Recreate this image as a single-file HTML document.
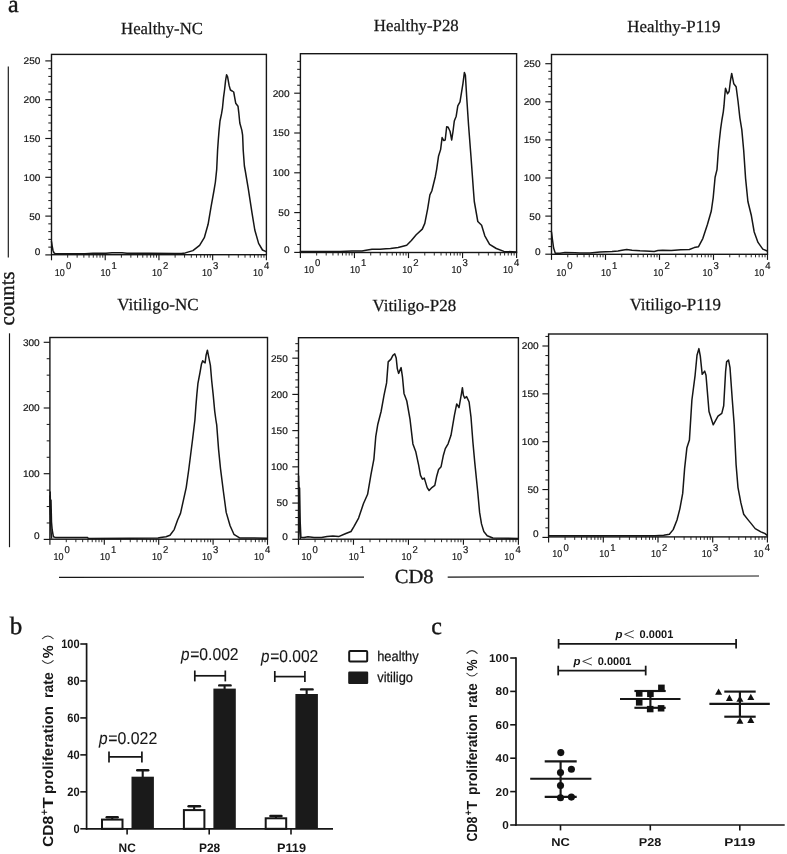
<!DOCTYPE html>
<html lang="en">
<head>
<meta charset="utf-8">
<title>Figure</title>
<style>
html,body{margin:0;padding:0;background:#fff;}
body{width:787px;height:854px;overflow:hidden;font-family:"Liberation Sans",sans-serif;}
svg{display:block;filter:grayscale(1);}
</style>
</head>
<body>
<svg width="787" height="854" viewBox="0 0 787 854" text-rendering="geometricPrecision">
<rect x="0" y="0" width="787" height="854" fill="#ffffff"/>
<rect x="51.5" y="54.4" width="214.9" height="200.3" fill="none" stroke="#161616" stroke-width="1.4"/>
<line x1="45.3" y1="254.9" x2="51.5" y2="254.9" stroke="#161616" stroke-width="1.15" stroke-linecap="butt"/>
<line x1="48.3" y1="247.14" x2="51.5" y2="247.14" stroke="#161616" stroke-width="1" stroke-linecap="butt"/>
<line x1="48.3" y1="239.38" x2="51.5" y2="239.38" stroke="#161616" stroke-width="1" stroke-linecap="butt"/>
<line x1="48.3" y1="231.62" x2="51.5" y2="231.62" stroke="#161616" stroke-width="1" stroke-linecap="butt"/>
<line x1="48.3" y1="223.86" x2="51.5" y2="223.86" stroke="#161616" stroke-width="1" stroke-linecap="butt"/>
<line x1="45.3" y1="216.1" x2="51.5" y2="216.1" stroke="#161616" stroke-width="1.15" stroke-linecap="butt"/>
<line x1="48.3" y1="208.34" x2="51.5" y2="208.34" stroke="#161616" stroke-width="1" stroke-linecap="butt"/>
<line x1="48.3" y1="200.58" x2="51.5" y2="200.58" stroke="#161616" stroke-width="1" stroke-linecap="butt"/>
<line x1="48.3" y1="192.82" x2="51.5" y2="192.82" stroke="#161616" stroke-width="1" stroke-linecap="butt"/>
<line x1="48.3" y1="185.06" x2="51.5" y2="185.06" stroke="#161616" stroke-width="1" stroke-linecap="butt"/>
<line x1="45.3" y1="177.3" x2="51.5" y2="177.3" stroke="#161616" stroke-width="1.15" stroke-linecap="butt"/>
<line x1="48.3" y1="169.54" x2="51.5" y2="169.54" stroke="#161616" stroke-width="1" stroke-linecap="butt"/>
<line x1="48.3" y1="161.78" x2="51.5" y2="161.78" stroke="#161616" stroke-width="1" stroke-linecap="butt"/>
<line x1="48.3" y1="154.02" x2="51.5" y2="154.02" stroke="#161616" stroke-width="1" stroke-linecap="butt"/>
<line x1="48.3" y1="146.26" x2="51.5" y2="146.26" stroke="#161616" stroke-width="1" stroke-linecap="butt"/>
<line x1="45.3" y1="138.5" x2="51.5" y2="138.5" stroke="#161616" stroke-width="1.15" stroke-linecap="butt"/>
<line x1="48.3" y1="130.74" x2="51.5" y2="130.74" stroke="#161616" stroke-width="1" stroke-linecap="butt"/>
<line x1="48.3" y1="122.98" x2="51.5" y2="122.98" stroke="#161616" stroke-width="1" stroke-linecap="butt"/>
<line x1="48.3" y1="115.22" x2="51.5" y2="115.22" stroke="#161616" stroke-width="1" stroke-linecap="butt"/>
<line x1="48.3" y1="107.46" x2="51.5" y2="107.46" stroke="#161616" stroke-width="1" stroke-linecap="butt"/>
<line x1="45.3" y1="99.7" x2="51.5" y2="99.7" stroke="#161616" stroke-width="1.15" stroke-linecap="butt"/>
<line x1="48.3" y1="91.94" x2="51.5" y2="91.94" stroke="#161616" stroke-width="1" stroke-linecap="butt"/>
<line x1="48.3" y1="84.18" x2="51.5" y2="84.18" stroke="#161616" stroke-width="1" stroke-linecap="butt"/>
<line x1="48.3" y1="76.42" x2="51.5" y2="76.42" stroke="#161616" stroke-width="1" stroke-linecap="butt"/>
<line x1="48.3" y1="68.66" x2="51.5" y2="68.66" stroke="#161616" stroke-width="1" stroke-linecap="butt"/>
<line x1="45.3" y1="60.9" x2="51.5" y2="60.9" stroke="#161616" stroke-width="1.15" stroke-linecap="butt"/>
<text x="40.4" y="255.3" font-family='"Liberation Sans", sans-serif' font-size="9.6" font-weight="normal" font-style="normal" text-anchor="end" fill="#161616" textLength="5.6" lengthAdjust="spacingAndGlyphs" stroke="#161616" stroke-width="0.2">0</text>
<text x="40.4" y="219.5" font-family='"Liberation Sans", sans-serif' font-size="9.6" font-weight="normal" font-style="normal" text-anchor="end" fill="#161616" textLength="11.2" lengthAdjust="spacingAndGlyphs" stroke="#161616" stroke-width="0.2">50</text>
<text x="40.4" y="180.7" font-family='"Liberation Sans", sans-serif' font-size="9.6" font-weight="normal" font-style="normal" text-anchor="end" fill="#161616" textLength="16.8" lengthAdjust="spacingAndGlyphs" stroke="#161616" stroke-width="0.2">100</text>
<text x="40.4" y="141.9" font-family='"Liberation Sans", sans-serif' font-size="9.6" font-weight="normal" font-style="normal" text-anchor="end" fill="#161616" textLength="16.8" lengthAdjust="spacingAndGlyphs" stroke="#161616" stroke-width="0.2">150</text>
<text x="40.4" y="103.1" font-family='"Liberation Sans", sans-serif' font-size="9.6" font-weight="normal" font-style="normal" text-anchor="end" fill="#161616" textLength="16.8" lengthAdjust="spacingAndGlyphs" stroke="#161616" stroke-width="0.2">200</text>
<text x="40.4" y="64.3" font-family='"Liberation Sans", sans-serif' font-size="9.6" font-weight="normal" font-style="normal" text-anchor="end" fill="#161616" textLength="16.8" lengthAdjust="spacingAndGlyphs" stroke="#161616" stroke-width="0.2">250</text>
<line x1="51.5" y1="254.7" x2="51.5" y2="260.3" stroke="#161616" stroke-width="1.15" stroke-linecap="butt"/>
<line x1="67.67" y1="254.7" x2="67.67" y2="257.7" stroke="#161616" stroke-width="0.9" stroke-linecap="butt"/>
<line x1="77.13" y1="254.7" x2="77.13" y2="257.7" stroke="#161616" stroke-width="0.9" stroke-linecap="butt"/>
<line x1="83.85" y1="254.7" x2="83.85" y2="257.7" stroke="#161616" stroke-width="0.9" stroke-linecap="butt"/>
<line x1="89.05" y1="254.7" x2="89.05" y2="257.7" stroke="#161616" stroke-width="0.9" stroke-linecap="butt"/>
<line x1="93.31" y1="254.7" x2="93.31" y2="257.7" stroke="#161616" stroke-width="0.9" stroke-linecap="butt"/>
<line x1="96.9" y1="254.7" x2="96.9" y2="257.7" stroke="#161616" stroke-width="0.9" stroke-linecap="butt"/>
<line x1="100.02" y1="254.7" x2="100.02" y2="257.7" stroke="#161616" stroke-width="0.9" stroke-linecap="butt"/>
<line x1="102.77" y1="254.7" x2="102.77" y2="257.7" stroke="#161616" stroke-width="0.9" stroke-linecap="butt"/>
<line x1="105.22" y1="254.7" x2="105.22" y2="260.3" stroke="#161616" stroke-width="1.15" stroke-linecap="butt"/>
<line x1="121.4" y1="254.7" x2="121.4" y2="257.7" stroke="#161616" stroke-width="0.9" stroke-linecap="butt"/>
<line x1="130.86" y1="254.7" x2="130.86" y2="257.7" stroke="#161616" stroke-width="0.9" stroke-linecap="butt"/>
<line x1="137.57" y1="254.7" x2="137.57" y2="257.7" stroke="#161616" stroke-width="0.9" stroke-linecap="butt"/>
<line x1="142.78" y1="254.7" x2="142.78" y2="257.7" stroke="#161616" stroke-width="0.9" stroke-linecap="butt"/>
<line x1="147.03" y1="254.7" x2="147.03" y2="257.7" stroke="#161616" stroke-width="0.9" stroke-linecap="butt"/>
<line x1="150.63" y1="254.7" x2="150.63" y2="257.7" stroke="#161616" stroke-width="0.9" stroke-linecap="butt"/>
<line x1="153.74" y1="254.7" x2="153.74" y2="257.7" stroke="#161616" stroke-width="0.9" stroke-linecap="butt"/>
<line x1="156.49" y1="254.7" x2="156.49" y2="257.7" stroke="#161616" stroke-width="0.9" stroke-linecap="butt"/>
<line x1="158.95" y1="254.7" x2="158.95" y2="260.3" stroke="#161616" stroke-width="1.15" stroke-linecap="butt"/>
<line x1="175.12" y1="254.7" x2="175.12" y2="257.7" stroke="#161616" stroke-width="0.9" stroke-linecap="butt"/>
<line x1="184.58" y1="254.7" x2="184.58" y2="257.7" stroke="#161616" stroke-width="0.9" stroke-linecap="butt"/>
<line x1="191.3" y1="254.7" x2="191.3" y2="257.7" stroke="#161616" stroke-width="0.9" stroke-linecap="butt"/>
<line x1="196.5" y1="254.7" x2="196.5" y2="257.7" stroke="#161616" stroke-width="0.9" stroke-linecap="butt"/>
<line x1="200.76" y1="254.7" x2="200.76" y2="257.7" stroke="#161616" stroke-width="0.9" stroke-linecap="butt"/>
<line x1="204.35" y1="254.7" x2="204.35" y2="257.7" stroke="#161616" stroke-width="0.9" stroke-linecap="butt"/>
<line x1="207.47" y1="254.7" x2="207.47" y2="257.7" stroke="#161616" stroke-width="0.9" stroke-linecap="butt"/>
<line x1="210.22" y1="254.7" x2="210.22" y2="257.7" stroke="#161616" stroke-width="0.9" stroke-linecap="butt"/>
<line x1="212.67" y1="254.7" x2="212.67" y2="260.3" stroke="#161616" stroke-width="1.15" stroke-linecap="butt"/>
<line x1="228.85" y1="254.7" x2="228.85" y2="257.7" stroke="#161616" stroke-width="0.9" stroke-linecap="butt"/>
<line x1="238.31" y1="254.7" x2="238.31" y2="257.7" stroke="#161616" stroke-width="0.9" stroke-linecap="butt"/>
<line x1="245.02" y1="254.7" x2="245.02" y2="257.7" stroke="#161616" stroke-width="0.9" stroke-linecap="butt"/>
<line x1="250.23" y1="254.7" x2="250.23" y2="257.7" stroke="#161616" stroke-width="0.9" stroke-linecap="butt"/>
<line x1="254.48" y1="254.7" x2="254.48" y2="257.7" stroke="#161616" stroke-width="0.9" stroke-linecap="butt"/>
<line x1="258.08" y1="254.7" x2="258.08" y2="257.7" stroke="#161616" stroke-width="0.9" stroke-linecap="butt"/>
<line x1="261.19" y1="254.7" x2="261.19" y2="257.7" stroke="#161616" stroke-width="0.9" stroke-linecap="butt"/>
<line x1="263.94" y1="254.7" x2="263.94" y2="257.7" stroke="#161616" stroke-width="0.9" stroke-linecap="butt"/>
<line x1="266.4" y1="254.7" x2="266.4" y2="260.3" stroke="#161616" stroke-width="1.15" stroke-linecap="butt"/>
<text x="54.8" y="275.8" font-family='"Liberation Sans", sans-serif' font-size="10" font-weight="normal" font-style="normal" text-anchor="start" fill="#161616" textLength="10" lengthAdjust="spacingAndGlyphs" stroke="#161616" stroke-width="0.2">10</text>
<text x="65.9" y="269.2" font-family='"Liberation Sans", sans-serif' font-size="10" font-weight="normal" font-style="normal" text-anchor="start" fill="#161616" textLength="5.3" lengthAdjust="spacingAndGlyphs" stroke="#161616" stroke-width="0.2">0</text>
<text x="100.5" y="275.8" font-family='"Liberation Sans", sans-serif' font-size="10" font-weight="normal" font-style="normal" text-anchor="start" fill="#161616" textLength="10" lengthAdjust="spacingAndGlyphs" stroke="#161616" stroke-width="0.2">10</text>
<text x="111.6" y="269.2" font-family='"Liberation Sans", sans-serif' font-size="10" font-weight="normal" font-style="normal" text-anchor="start" fill="#161616" textLength="5.3" lengthAdjust="spacingAndGlyphs" stroke="#161616" stroke-width="0.2">1</text>
<text x="151.9" y="275.8" font-family='"Liberation Sans", sans-serif' font-size="10" font-weight="normal" font-style="normal" text-anchor="start" fill="#161616" textLength="10" lengthAdjust="spacingAndGlyphs" stroke="#161616" stroke-width="0.2">10</text>
<text x="163" y="269.2" font-family='"Liberation Sans", sans-serif' font-size="10" font-weight="normal" font-style="normal" text-anchor="start" fill="#161616" textLength="5.3" lengthAdjust="spacingAndGlyphs" stroke="#161616" stroke-width="0.2">2</text>
<text x="201.9" y="275.8" font-family='"Liberation Sans", sans-serif' font-size="10" font-weight="normal" font-style="normal" text-anchor="start" fill="#161616" textLength="10" lengthAdjust="spacingAndGlyphs" stroke="#161616" stroke-width="0.2">10</text>
<text x="213" y="269.2" font-family='"Liberation Sans", sans-serif' font-size="10" font-weight="normal" font-style="normal" text-anchor="start" fill="#161616" textLength="5.3" lengthAdjust="spacingAndGlyphs" stroke="#161616" stroke-width="0.2">3</text>
<text x="252.9" y="275.8" font-family='"Liberation Sans", sans-serif' font-size="10" font-weight="normal" font-style="normal" text-anchor="start" fill="#161616" textLength="10" lengthAdjust="spacingAndGlyphs" stroke="#161616" stroke-width="0.2">10</text>
<text x="264" y="269.2" font-family='"Liberation Sans", sans-serif' font-size="10" font-weight="normal" font-style="normal" text-anchor="start" fill="#161616" textLength="5.3" lengthAdjust="spacingAndGlyphs" stroke="#161616" stroke-width="0.2">4</text>
<polyline fill="none" stroke="#161616" stroke-width="1.5" stroke-linejoin="round" stroke-linecap="round" points="51.5,241.6 52.2,246 53,250.5 54,252.9 55.2,253.7 60,253.8 85,253.7 93,253.3 106,253.2 112,252.7 122,252.7 127,253.2 150,253.3 175,253.4 181.5,253.6 185.3,252.9 192.9,250.6 199.6,245.3 204.3,237.7 208.1,224.3 211,207.2 213.9,191 215.4,182 216.7,169.3 217.6,150 218.3,140 219,131.1 220,121 221.5,113.9 222.5,107.8 223.5,97.6 224.6,89.5 225.6,80.3 226.6,74.7 227.6,76.8 229.1,85.4 230.4,90 232.2,91 233.7,92 234.7,97.6 235.7,103.2 238,106.2 238.8,112.8 239.8,123 241.8,130.1 242.6,135.2 242.9,142 243.2,150 244.4,166 245.3,171 248.2,188.1 252,212.9 254.8,230 258.6,243.4 262.5,250 266.1,251.6"/>
<rect x="300.4" y="53.7" width="216.2" height="198.8" fill="none" stroke="#161616" stroke-width="1.4"/>
<line x1="294.2" y1="252.4" x2="300.4" y2="252.4" stroke="#161616" stroke-width="1.15" stroke-linecap="butt"/>
<line x1="297.2" y1="244.44" x2="300.4" y2="244.44" stroke="#161616" stroke-width="1" stroke-linecap="butt"/>
<line x1="297.2" y1="236.48" x2="300.4" y2="236.48" stroke="#161616" stroke-width="1" stroke-linecap="butt"/>
<line x1="297.2" y1="228.52" x2="300.4" y2="228.52" stroke="#161616" stroke-width="1" stroke-linecap="butt"/>
<line x1="297.2" y1="220.56" x2="300.4" y2="220.56" stroke="#161616" stroke-width="1" stroke-linecap="butt"/>
<line x1="294.2" y1="212.6" x2="300.4" y2="212.6" stroke="#161616" stroke-width="1.15" stroke-linecap="butt"/>
<line x1="297.2" y1="204.64" x2="300.4" y2="204.64" stroke="#161616" stroke-width="1" stroke-linecap="butt"/>
<line x1="297.2" y1="196.68" x2="300.4" y2="196.68" stroke="#161616" stroke-width="1" stroke-linecap="butt"/>
<line x1="297.2" y1="188.72" x2="300.4" y2="188.72" stroke="#161616" stroke-width="1" stroke-linecap="butt"/>
<line x1="297.2" y1="180.76" x2="300.4" y2="180.76" stroke="#161616" stroke-width="1" stroke-linecap="butt"/>
<line x1="294.2" y1="172.8" x2="300.4" y2="172.8" stroke="#161616" stroke-width="1.15" stroke-linecap="butt"/>
<line x1="297.2" y1="164.84" x2="300.4" y2="164.84" stroke="#161616" stroke-width="1" stroke-linecap="butt"/>
<line x1="297.2" y1="156.88" x2="300.4" y2="156.88" stroke="#161616" stroke-width="1" stroke-linecap="butt"/>
<line x1="297.2" y1="148.92" x2="300.4" y2="148.92" stroke="#161616" stroke-width="1" stroke-linecap="butt"/>
<line x1="297.2" y1="140.96" x2="300.4" y2="140.96" stroke="#161616" stroke-width="1" stroke-linecap="butt"/>
<line x1="294.2" y1="133" x2="300.4" y2="133" stroke="#161616" stroke-width="1.15" stroke-linecap="butt"/>
<line x1="297.2" y1="125.04" x2="300.4" y2="125.04" stroke="#161616" stroke-width="1" stroke-linecap="butt"/>
<line x1="297.2" y1="117.08" x2="300.4" y2="117.08" stroke="#161616" stroke-width="1" stroke-linecap="butt"/>
<line x1="297.2" y1="109.12" x2="300.4" y2="109.12" stroke="#161616" stroke-width="1" stroke-linecap="butt"/>
<line x1="297.2" y1="101.16" x2="300.4" y2="101.16" stroke="#161616" stroke-width="1" stroke-linecap="butt"/>
<line x1="294.2" y1="93.2" x2="300.4" y2="93.2" stroke="#161616" stroke-width="1.15" stroke-linecap="butt"/>
<line x1="297.2" y1="85.24" x2="300.4" y2="85.24" stroke="#161616" stroke-width="1" stroke-linecap="butt"/>
<line x1="297.2" y1="77.28" x2="300.4" y2="77.28" stroke="#161616" stroke-width="1" stroke-linecap="butt"/>
<line x1="297.2" y1="69.32" x2="300.4" y2="69.32" stroke="#161616" stroke-width="1" stroke-linecap="butt"/>
<line x1="297.2" y1="61.36" x2="300.4" y2="61.36" stroke="#161616" stroke-width="1" stroke-linecap="butt"/>
<text x="289.5" y="252.8" font-family='"Liberation Sans", sans-serif' font-size="9.6" font-weight="normal" font-style="normal" text-anchor="end" fill="#161616" textLength="5.6" lengthAdjust="spacingAndGlyphs" stroke="#161616" stroke-width="0.2">0</text>
<text x="289.5" y="216" font-family='"Liberation Sans", sans-serif' font-size="9.6" font-weight="normal" font-style="normal" text-anchor="end" fill="#161616" textLength="11.2" lengthAdjust="spacingAndGlyphs" stroke="#161616" stroke-width="0.2">50</text>
<text x="289.5" y="176.2" font-family='"Liberation Sans", sans-serif' font-size="9.6" font-weight="normal" font-style="normal" text-anchor="end" fill="#161616" textLength="16.8" lengthAdjust="spacingAndGlyphs" stroke="#161616" stroke-width="0.2">100</text>
<text x="289.5" y="136.4" font-family='"Liberation Sans", sans-serif' font-size="9.6" font-weight="normal" font-style="normal" text-anchor="end" fill="#161616" textLength="16.8" lengthAdjust="spacingAndGlyphs" stroke="#161616" stroke-width="0.2">150</text>
<text x="289.5" y="96.6" font-family='"Liberation Sans", sans-serif' font-size="9.6" font-weight="normal" font-style="normal" text-anchor="end" fill="#161616" textLength="16.8" lengthAdjust="spacingAndGlyphs" stroke="#161616" stroke-width="0.2">200</text>
<line x1="300.4" y1="252.5" x2="300.4" y2="258.1" stroke="#161616" stroke-width="1.15" stroke-linecap="butt"/>
<line x1="316.67" y1="252.5" x2="316.67" y2="255.5" stroke="#161616" stroke-width="0.9" stroke-linecap="butt"/>
<line x1="326.19" y1="252.5" x2="326.19" y2="255.5" stroke="#161616" stroke-width="0.9" stroke-linecap="butt"/>
<line x1="332.94" y1="252.5" x2="332.94" y2="255.5" stroke="#161616" stroke-width="0.9" stroke-linecap="butt"/>
<line x1="338.18" y1="252.5" x2="338.18" y2="255.5" stroke="#161616" stroke-width="0.9" stroke-linecap="butt"/>
<line x1="342.46" y1="252.5" x2="342.46" y2="255.5" stroke="#161616" stroke-width="0.9" stroke-linecap="butt"/>
<line x1="346.08" y1="252.5" x2="346.08" y2="255.5" stroke="#161616" stroke-width="0.9" stroke-linecap="butt"/>
<line x1="349.21" y1="252.5" x2="349.21" y2="255.5" stroke="#161616" stroke-width="0.9" stroke-linecap="butt"/>
<line x1="351.98" y1="252.5" x2="351.98" y2="255.5" stroke="#161616" stroke-width="0.9" stroke-linecap="butt"/>
<line x1="354.45" y1="252.5" x2="354.45" y2="258.1" stroke="#161616" stroke-width="1.15" stroke-linecap="butt"/>
<line x1="370.72" y1="252.5" x2="370.72" y2="255.5" stroke="#161616" stroke-width="0.9" stroke-linecap="butt"/>
<line x1="380.24" y1="252.5" x2="380.24" y2="255.5" stroke="#161616" stroke-width="0.9" stroke-linecap="butt"/>
<line x1="386.99" y1="252.5" x2="386.99" y2="255.5" stroke="#161616" stroke-width="0.9" stroke-linecap="butt"/>
<line x1="392.23" y1="252.5" x2="392.23" y2="255.5" stroke="#161616" stroke-width="0.9" stroke-linecap="butt"/>
<line x1="396.51" y1="252.5" x2="396.51" y2="255.5" stroke="#161616" stroke-width="0.9" stroke-linecap="butt"/>
<line x1="400.13" y1="252.5" x2="400.13" y2="255.5" stroke="#161616" stroke-width="0.9" stroke-linecap="butt"/>
<line x1="403.26" y1="252.5" x2="403.26" y2="255.5" stroke="#161616" stroke-width="0.9" stroke-linecap="butt"/>
<line x1="406.03" y1="252.5" x2="406.03" y2="255.5" stroke="#161616" stroke-width="0.9" stroke-linecap="butt"/>
<line x1="408.5" y1="252.5" x2="408.5" y2="258.1" stroke="#161616" stroke-width="1.15" stroke-linecap="butt"/>
<line x1="424.77" y1="252.5" x2="424.77" y2="255.5" stroke="#161616" stroke-width="0.9" stroke-linecap="butt"/>
<line x1="434.29" y1="252.5" x2="434.29" y2="255.5" stroke="#161616" stroke-width="0.9" stroke-linecap="butt"/>
<line x1="441.04" y1="252.5" x2="441.04" y2="255.5" stroke="#161616" stroke-width="0.9" stroke-linecap="butt"/>
<line x1="446.28" y1="252.5" x2="446.28" y2="255.5" stroke="#161616" stroke-width="0.9" stroke-linecap="butt"/>
<line x1="450.56" y1="252.5" x2="450.56" y2="255.5" stroke="#161616" stroke-width="0.9" stroke-linecap="butt"/>
<line x1="454.18" y1="252.5" x2="454.18" y2="255.5" stroke="#161616" stroke-width="0.9" stroke-linecap="butt"/>
<line x1="457.31" y1="252.5" x2="457.31" y2="255.5" stroke="#161616" stroke-width="0.9" stroke-linecap="butt"/>
<line x1="460.08" y1="252.5" x2="460.08" y2="255.5" stroke="#161616" stroke-width="0.9" stroke-linecap="butt"/>
<line x1="462.55" y1="252.5" x2="462.55" y2="258.1" stroke="#161616" stroke-width="1.15" stroke-linecap="butt"/>
<line x1="478.82" y1="252.5" x2="478.82" y2="255.5" stroke="#161616" stroke-width="0.9" stroke-linecap="butt"/>
<line x1="488.34" y1="252.5" x2="488.34" y2="255.5" stroke="#161616" stroke-width="0.9" stroke-linecap="butt"/>
<line x1="495.09" y1="252.5" x2="495.09" y2="255.5" stroke="#161616" stroke-width="0.9" stroke-linecap="butt"/>
<line x1="500.33" y1="252.5" x2="500.33" y2="255.5" stroke="#161616" stroke-width="0.9" stroke-linecap="butt"/>
<line x1="504.61" y1="252.5" x2="504.61" y2="255.5" stroke="#161616" stroke-width="0.9" stroke-linecap="butt"/>
<line x1="508.23" y1="252.5" x2="508.23" y2="255.5" stroke="#161616" stroke-width="0.9" stroke-linecap="butt"/>
<line x1="511.36" y1="252.5" x2="511.36" y2="255.5" stroke="#161616" stroke-width="0.9" stroke-linecap="butt"/>
<line x1="514.13" y1="252.5" x2="514.13" y2="255.5" stroke="#161616" stroke-width="0.9" stroke-linecap="butt"/>
<line x1="516.6" y1="252.5" x2="516.6" y2="258.1" stroke="#161616" stroke-width="1.15" stroke-linecap="butt"/>
<text x="303.9" y="272.9" font-family='"Liberation Sans", sans-serif' font-size="10" font-weight="normal" font-style="normal" text-anchor="start" fill="#161616" textLength="10" lengthAdjust="spacingAndGlyphs" stroke="#161616" stroke-width="0.2">10</text>
<text x="315" y="266.3" font-family='"Liberation Sans", sans-serif' font-size="10" font-weight="normal" font-style="normal" text-anchor="start" fill="#161616" textLength="5.3" lengthAdjust="spacingAndGlyphs" stroke="#161616" stroke-width="0.2">0</text>
<text x="350" y="272.9" font-family='"Liberation Sans", sans-serif' font-size="10" font-weight="normal" font-style="normal" text-anchor="start" fill="#161616" textLength="10" lengthAdjust="spacingAndGlyphs" stroke="#161616" stroke-width="0.2">10</text>
<text x="361.1" y="266.3" font-family='"Liberation Sans", sans-serif' font-size="10" font-weight="normal" font-style="normal" text-anchor="start" fill="#161616" textLength="5.3" lengthAdjust="spacingAndGlyphs" stroke="#161616" stroke-width="0.2">1</text>
<text x="402.2" y="272.9" font-family='"Liberation Sans", sans-serif' font-size="10" font-weight="normal" font-style="normal" text-anchor="start" fill="#161616" textLength="10" lengthAdjust="spacingAndGlyphs" stroke="#161616" stroke-width="0.2">10</text>
<text x="413.3" y="266.3" font-family='"Liberation Sans", sans-serif' font-size="10" font-weight="normal" font-style="normal" text-anchor="start" fill="#161616" textLength="5.3" lengthAdjust="spacingAndGlyphs" stroke="#161616" stroke-width="0.2">2</text>
<text x="451.5" y="272.9" font-family='"Liberation Sans", sans-serif' font-size="10" font-weight="normal" font-style="normal" text-anchor="start" fill="#161616" textLength="10" lengthAdjust="spacingAndGlyphs" stroke="#161616" stroke-width="0.2">10</text>
<text x="462.6" y="266.3" font-family='"Liberation Sans", sans-serif' font-size="10" font-weight="normal" font-style="normal" text-anchor="start" fill="#161616" textLength="5.3" lengthAdjust="spacingAndGlyphs" stroke="#161616" stroke-width="0.2">3</text>
<text x="502.9" y="272.9" font-family='"Liberation Sans", sans-serif' font-size="10" font-weight="normal" font-style="normal" text-anchor="start" fill="#161616" textLength="10" lengthAdjust="spacingAndGlyphs" stroke="#161616" stroke-width="0.2">10</text>
<text x="514" y="266.3" font-family='"Liberation Sans", sans-serif' font-size="10" font-weight="normal" font-style="normal" text-anchor="start" fill="#161616" textLength="5.3" lengthAdjust="spacingAndGlyphs" stroke="#161616" stroke-width="0.2">4</text>
<polyline fill="none" stroke="#161616" stroke-width="1.5" stroke-linejoin="round" stroke-linecap="round" points="300.4,251.6 340,251.6 352,251 362,250.9 366,250.2 372,249.3 380,249.2 386,248.8 390.5,248.6 398.1,247.6 402,246.6 406.7,245.3 411.4,240.5 416.2,234.8 422.3,229.1 424.8,223.4 427.6,209.1 429.9,194.8 431.8,191 435.3,176.7 436.6,169.6 438.5,156.3 440.6,149.6 442.1,137.6 443.8,140.6 445.2,140 446.7,126.7 448.2,127.3 450.1,131.5 451.7,140 453,131.5 454.3,121 456.2,116.2 457.8,105.8 460,101.9 462.9,83.8 464.4,72.4 465.4,75.3 466.7,97.2 468.6,125.8 471.1,158.2 473.4,190 474.3,201.5 477.8,221.5 481.6,225.3 484.8,235.8 489.6,244.3 496.3,248.5 503.9,251.4 516.5,251.9"/>
<rect x="551.5" y="54.5" width="216" height="199.8" fill="none" stroke="#161616" stroke-width="1.4"/>
<line x1="545.3" y1="254.2" x2="551.5" y2="254.2" stroke="#161616" stroke-width="1.15" stroke-linecap="butt"/>
<line x1="548.3" y1="246.58" x2="551.5" y2="246.58" stroke="#161616" stroke-width="1" stroke-linecap="butt"/>
<line x1="548.3" y1="238.96" x2="551.5" y2="238.96" stroke="#161616" stroke-width="1" stroke-linecap="butt"/>
<line x1="548.3" y1="231.34" x2="551.5" y2="231.34" stroke="#161616" stroke-width="1" stroke-linecap="butt"/>
<line x1="548.3" y1="223.72" x2="551.5" y2="223.72" stroke="#161616" stroke-width="1" stroke-linecap="butt"/>
<line x1="545.3" y1="216.1" x2="551.5" y2="216.1" stroke="#161616" stroke-width="1.15" stroke-linecap="butt"/>
<line x1="548.3" y1="208.48" x2="551.5" y2="208.48" stroke="#161616" stroke-width="1" stroke-linecap="butt"/>
<line x1="548.3" y1="200.86" x2="551.5" y2="200.86" stroke="#161616" stroke-width="1" stroke-linecap="butt"/>
<line x1="548.3" y1="193.24" x2="551.5" y2="193.24" stroke="#161616" stroke-width="1" stroke-linecap="butt"/>
<line x1="548.3" y1="185.62" x2="551.5" y2="185.62" stroke="#161616" stroke-width="1" stroke-linecap="butt"/>
<line x1="545.3" y1="178" x2="551.5" y2="178" stroke="#161616" stroke-width="1.15" stroke-linecap="butt"/>
<line x1="548.3" y1="170.38" x2="551.5" y2="170.38" stroke="#161616" stroke-width="1" stroke-linecap="butt"/>
<line x1="548.3" y1="162.76" x2="551.5" y2="162.76" stroke="#161616" stroke-width="1" stroke-linecap="butt"/>
<line x1="548.3" y1="155.14" x2="551.5" y2="155.14" stroke="#161616" stroke-width="1" stroke-linecap="butt"/>
<line x1="548.3" y1="147.52" x2="551.5" y2="147.52" stroke="#161616" stroke-width="1" stroke-linecap="butt"/>
<line x1="545.3" y1="139.9" x2="551.5" y2="139.9" stroke="#161616" stroke-width="1.15" stroke-linecap="butt"/>
<line x1="548.3" y1="132.28" x2="551.5" y2="132.28" stroke="#161616" stroke-width="1" stroke-linecap="butt"/>
<line x1="548.3" y1="124.66" x2="551.5" y2="124.66" stroke="#161616" stroke-width="1" stroke-linecap="butt"/>
<line x1="548.3" y1="117.04" x2="551.5" y2="117.04" stroke="#161616" stroke-width="1" stroke-linecap="butt"/>
<line x1="548.3" y1="109.42" x2="551.5" y2="109.42" stroke="#161616" stroke-width="1" stroke-linecap="butt"/>
<line x1="545.3" y1="101.8" x2="551.5" y2="101.8" stroke="#161616" stroke-width="1.15" stroke-linecap="butt"/>
<line x1="548.3" y1="94.18" x2="551.5" y2="94.18" stroke="#161616" stroke-width="1" stroke-linecap="butt"/>
<line x1="548.3" y1="86.56" x2="551.5" y2="86.56" stroke="#161616" stroke-width="1" stroke-linecap="butt"/>
<line x1="548.3" y1="78.94" x2="551.5" y2="78.94" stroke="#161616" stroke-width="1" stroke-linecap="butt"/>
<line x1="548.3" y1="71.32" x2="551.5" y2="71.32" stroke="#161616" stroke-width="1" stroke-linecap="butt"/>
<line x1="545.3" y1="63.7" x2="551.5" y2="63.7" stroke="#161616" stroke-width="1.15" stroke-linecap="butt"/>
<text x="540.5" y="254.6" font-family='"Liberation Sans", sans-serif' font-size="9.6" font-weight="normal" font-style="normal" text-anchor="end" fill="#161616" textLength="5.6" lengthAdjust="spacingAndGlyphs" stroke="#161616" stroke-width="0.2">0</text>
<text x="540.5" y="219.5" font-family='"Liberation Sans", sans-serif' font-size="9.6" font-weight="normal" font-style="normal" text-anchor="end" fill="#161616" textLength="11.2" lengthAdjust="spacingAndGlyphs" stroke="#161616" stroke-width="0.2">50</text>
<text x="540.5" y="181.4" font-family='"Liberation Sans", sans-serif' font-size="9.6" font-weight="normal" font-style="normal" text-anchor="end" fill="#161616" textLength="16.8" lengthAdjust="spacingAndGlyphs" stroke="#161616" stroke-width="0.2">100</text>
<text x="540.5" y="143.3" font-family='"Liberation Sans", sans-serif' font-size="9.6" font-weight="normal" font-style="normal" text-anchor="end" fill="#161616" textLength="16.8" lengthAdjust="spacingAndGlyphs" stroke="#161616" stroke-width="0.2">150</text>
<text x="540.5" y="105.2" font-family='"Liberation Sans", sans-serif' font-size="9.6" font-weight="normal" font-style="normal" text-anchor="end" fill="#161616" textLength="16.8" lengthAdjust="spacingAndGlyphs" stroke="#161616" stroke-width="0.2">200</text>
<text x="540.5" y="67.1" font-family='"Liberation Sans", sans-serif' font-size="9.6" font-weight="normal" font-style="normal" text-anchor="end" fill="#161616" textLength="16.8" lengthAdjust="spacingAndGlyphs" stroke="#161616" stroke-width="0.2">250</text>
<line x1="551.5" y1="254.3" x2="551.5" y2="259.9" stroke="#161616" stroke-width="1.15" stroke-linecap="butt"/>
<line x1="567.76" y1="254.3" x2="567.76" y2="257.3" stroke="#161616" stroke-width="0.9" stroke-linecap="butt"/>
<line x1="577.26" y1="254.3" x2="577.26" y2="257.3" stroke="#161616" stroke-width="0.9" stroke-linecap="butt"/>
<line x1="584.01" y1="254.3" x2="584.01" y2="257.3" stroke="#161616" stroke-width="0.9" stroke-linecap="butt"/>
<line x1="589.24" y1="254.3" x2="589.24" y2="257.3" stroke="#161616" stroke-width="0.9" stroke-linecap="butt"/>
<line x1="593.52" y1="254.3" x2="593.52" y2="257.3" stroke="#161616" stroke-width="0.9" stroke-linecap="butt"/>
<line x1="597.14" y1="254.3" x2="597.14" y2="257.3" stroke="#161616" stroke-width="0.9" stroke-linecap="butt"/>
<line x1="600.27" y1="254.3" x2="600.27" y2="257.3" stroke="#161616" stroke-width="0.9" stroke-linecap="butt"/>
<line x1="603.03" y1="254.3" x2="603.03" y2="257.3" stroke="#161616" stroke-width="0.9" stroke-linecap="butt"/>
<line x1="605.5" y1="254.3" x2="605.5" y2="259.9" stroke="#161616" stroke-width="1.15" stroke-linecap="butt"/>
<line x1="621.76" y1="254.3" x2="621.76" y2="257.3" stroke="#161616" stroke-width="0.9" stroke-linecap="butt"/>
<line x1="631.26" y1="254.3" x2="631.26" y2="257.3" stroke="#161616" stroke-width="0.9" stroke-linecap="butt"/>
<line x1="638.01" y1="254.3" x2="638.01" y2="257.3" stroke="#161616" stroke-width="0.9" stroke-linecap="butt"/>
<line x1="643.24" y1="254.3" x2="643.24" y2="257.3" stroke="#161616" stroke-width="0.9" stroke-linecap="butt"/>
<line x1="647.52" y1="254.3" x2="647.52" y2="257.3" stroke="#161616" stroke-width="0.9" stroke-linecap="butt"/>
<line x1="651.14" y1="254.3" x2="651.14" y2="257.3" stroke="#161616" stroke-width="0.9" stroke-linecap="butt"/>
<line x1="654.27" y1="254.3" x2="654.27" y2="257.3" stroke="#161616" stroke-width="0.9" stroke-linecap="butt"/>
<line x1="657.03" y1="254.3" x2="657.03" y2="257.3" stroke="#161616" stroke-width="0.9" stroke-linecap="butt"/>
<line x1="659.5" y1="254.3" x2="659.5" y2="259.9" stroke="#161616" stroke-width="1.15" stroke-linecap="butt"/>
<line x1="675.76" y1="254.3" x2="675.76" y2="257.3" stroke="#161616" stroke-width="0.9" stroke-linecap="butt"/>
<line x1="685.26" y1="254.3" x2="685.26" y2="257.3" stroke="#161616" stroke-width="0.9" stroke-linecap="butt"/>
<line x1="692.01" y1="254.3" x2="692.01" y2="257.3" stroke="#161616" stroke-width="0.9" stroke-linecap="butt"/>
<line x1="697.24" y1="254.3" x2="697.24" y2="257.3" stroke="#161616" stroke-width="0.9" stroke-linecap="butt"/>
<line x1="701.52" y1="254.3" x2="701.52" y2="257.3" stroke="#161616" stroke-width="0.9" stroke-linecap="butt"/>
<line x1="705.14" y1="254.3" x2="705.14" y2="257.3" stroke="#161616" stroke-width="0.9" stroke-linecap="butt"/>
<line x1="708.27" y1="254.3" x2="708.27" y2="257.3" stroke="#161616" stroke-width="0.9" stroke-linecap="butt"/>
<line x1="711.03" y1="254.3" x2="711.03" y2="257.3" stroke="#161616" stroke-width="0.9" stroke-linecap="butt"/>
<line x1="713.5" y1="254.3" x2="713.5" y2="259.9" stroke="#161616" stroke-width="1.15" stroke-linecap="butt"/>
<line x1="729.76" y1="254.3" x2="729.76" y2="257.3" stroke="#161616" stroke-width="0.9" stroke-linecap="butt"/>
<line x1="739.26" y1="254.3" x2="739.26" y2="257.3" stroke="#161616" stroke-width="0.9" stroke-linecap="butt"/>
<line x1="746.01" y1="254.3" x2="746.01" y2="257.3" stroke="#161616" stroke-width="0.9" stroke-linecap="butt"/>
<line x1="751.24" y1="254.3" x2="751.24" y2="257.3" stroke="#161616" stroke-width="0.9" stroke-linecap="butt"/>
<line x1="755.52" y1="254.3" x2="755.52" y2="257.3" stroke="#161616" stroke-width="0.9" stroke-linecap="butt"/>
<line x1="759.14" y1="254.3" x2="759.14" y2="257.3" stroke="#161616" stroke-width="0.9" stroke-linecap="butt"/>
<line x1="762.27" y1="254.3" x2="762.27" y2="257.3" stroke="#161616" stroke-width="0.9" stroke-linecap="butt"/>
<line x1="765.03" y1="254.3" x2="765.03" y2="257.3" stroke="#161616" stroke-width="0.9" stroke-linecap="butt"/>
<line x1="767.5" y1="254.3" x2="767.5" y2="259.9" stroke="#161616" stroke-width="1.15" stroke-linecap="butt"/>
<text x="556.2" y="275.8" font-family='"Liberation Sans", sans-serif' font-size="10" font-weight="normal" font-style="normal" text-anchor="start" fill="#161616" textLength="10" lengthAdjust="spacingAndGlyphs" stroke="#161616" stroke-width="0.2">10</text>
<text x="567.3" y="269.2" font-family='"Liberation Sans", sans-serif' font-size="10" font-weight="normal" font-style="normal" text-anchor="start" fill="#161616" textLength="5.3" lengthAdjust="spacingAndGlyphs" stroke="#161616" stroke-width="0.2">0</text>
<text x="601" y="275.8" font-family='"Liberation Sans", sans-serif' font-size="10" font-weight="normal" font-style="normal" text-anchor="start" fill="#161616" textLength="10" lengthAdjust="spacingAndGlyphs" stroke="#161616" stroke-width="0.2">10</text>
<text x="612.1" y="269.2" font-family='"Liberation Sans", sans-serif' font-size="10" font-weight="normal" font-style="normal" text-anchor="start" fill="#161616" textLength="5.3" lengthAdjust="spacingAndGlyphs" stroke="#161616" stroke-width="0.2">1</text>
<text x="653.3" y="275.8" font-family='"Liberation Sans", sans-serif' font-size="10" font-weight="normal" font-style="normal" text-anchor="start" fill="#161616" textLength="10" lengthAdjust="spacingAndGlyphs" stroke="#161616" stroke-width="0.2">10</text>
<text x="664.4" y="269.2" font-family='"Liberation Sans", sans-serif' font-size="10" font-weight="normal" font-style="normal" text-anchor="start" fill="#161616" textLength="5.3" lengthAdjust="spacingAndGlyphs" stroke="#161616" stroke-width="0.2">2</text>
<text x="702.4" y="275.8" font-family='"Liberation Sans", sans-serif' font-size="10" font-weight="normal" font-style="normal" text-anchor="start" fill="#161616" textLength="10" lengthAdjust="spacingAndGlyphs" stroke="#161616" stroke-width="0.2">10</text>
<text x="713.5" y="269.2" font-family='"Liberation Sans", sans-serif' font-size="10" font-weight="normal" font-style="normal" text-anchor="start" fill="#161616" textLength="5.3" lengthAdjust="spacingAndGlyphs" stroke="#161616" stroke-width="0.2">3</text>
<text x="754.2" y="275.8" font-family='"Liberation Sans", sans-serif' font-size="10" font-weight="normal" font-style="normal" text-anchor="start" fill="#161616" textLength="10" lengthAdjust="spacingAndGlyphs" stroke="#161616" stroke-width="0.2">10</text>
<text x="765.3" y="269.2" font-family='"Liberation Sans", sans-serif' font-size="10" font-weight="normal" font-style="normal" text-anchor="start" fill="#161616" textLength="5.3" lengthAdjust="spacingAndGlyphs" stroke="#161616" stroke-width="0.2">4</text>
<polyline fill="none" stroke="#161616" stroke-width="1.5" stroke-linejoin="round" stroke-linecap="round" points="551.5,232 552.5,240 553.6,248 555.3,253.2 560,253.2 565,252.6 575,252.7 580,253.1 590,252.9 600,252 612,251.6 618,250.9 622,250.3 626.7,249.6 632,250.3 640,250.8 650,251.2 654.2,251.4 658,250.6 662.7,250.2 671.3,250.6 680.8,249.7 689.4,249.5 694.2,247.6 698.4,246.8 702.8,238.6 707.5,224.3 711.3,211 713.2,197.6 715.1,177.2 717,169.6 718.4,150 719.4,140 720.6,129.1 721.9,120 723.3,111.8 724,105.7 724.7,96.6 725.5,88.3 727.5,93.7 729.1,91.5 730.4,81 731.7,73.4 733.8,83.8 736.1,86.7 738,101 739.9,118.1 741.8,129.6 743.7,150.5 745.6,178.6 747.9,201.5 751.4,215.8 754.2,232 758,242.4 762.8,249.1 767.2,251"/>
<rect x="49.9" y="337.5" width="217.6" height="201.7" fill="none" stroke="#161616" stroke-width="1.4"/>
<line x1="43.7" y1="539.4" x2="49.9" y2="539.4" stroke="#161616" stroke-width="1.15" stroke-linecap="butt"/>
<line x1="46.7" y1="522.98" x2="49.9" y2="522.98" stroke="#161616" stroke-width="1" stroke-linecap="butt"/>
<line x1="46.7" y1="506.55" x2="49.9" y2="506.55" stroke="#161616" stroke-width="1" stroke-linecap="butt"/>
<line x1="46.7" y1="490.12" x2="49.9" y2="490.12" stroke="#161616" stroke-width="1" stroke-linecap="butt"/>
<line x1="43.7" y1="473.7" x2="49.9" y2="473.7" stroke="#161616" stroke-width="1.15" stroke-linecap="butt"/>
<line x1="46.7" y1="457.27" x2="49.9" y2="457.27" stroke="#161616" stroke-width="1" stroke-linecap="butt"/>
<line x1="46.7" y1="440.85" x2="49.9" y2="440.85" stroke="#161616" stroke-width="1" stroke-linecap="butt"/>
<line x1="46.7" y1="424.42" x2="49.9" y2="424.42" stroke="#161616" stroke-width="1" stroke-linecap="butt"/>
<line x1="43.7" y1="408" x2="49.9" y2="408" stroke="#161616" stroke-width="1.15" stroke-linecap="butt"/>
<line x1="46.7" y1="391.57" x2="49.9" y2="391.57" stroke="#161616" stroke-width="1" stroke-linecap="butt"/>
<line x1="46.7" y1="375.15" x2="49.9" y2="375.15" stroke="#161616" stroke-width="1" stroke-linecap="butt"/>
<line x1="46.7" y1="358.72" x2="49.9" y2="358.72" stroke="#161616" stroke-width="1" stroke-linecap="butt"/>
<line x1="43.7" y1="342.3" x2="49.9" y2="342.3" stroke="#161616" stroke-width="1.15" stroke-linecap="butt"/>
<text x="39.7" y="539.4" font-family='"Liberation Sans", sans-serif' font-size="9.6" font-weight="normal" font-style="normal" text-anchor="end" fill="#161616" textLength="5.6" lengthAdjust="spacingAndGlyphs" stroke="#161616" stroke-width="0.2">0</text>
<text x="39.7" y="477.1" font-family='"Liberation Sans", sans-serif' font-size="9.6" font-weight="normal" font-style="normal" text-anchor="end" fill="#161616" textLength="16.8" lengthAdjust="spacingAndGlyphs" stroke="#161616" stroke-width="0.2">100</text>
<text x="39.7" y="411.4" font-family='"Liberation Sans", sans-serif' font-size="9.6" font-weight="normal" font-style="normal" text-anchor="end" fill="#161616" textLength="16.8" lengthAdjust="spacingAndGlyphs" stroke="#161616" stroke-width="0.2">200</text>
<text x="39.7" y="345.7" font-family='"Liberation Sans", sans-serif' font-size="9.6" font-weight="normal" font-style="normal" text-anchor="end" fill="#161616" textLength="16.8" lengthAdjust="spacingAndGlyphs" stroke="#161616" stroke-width="0.2">300</text>
<line x1="49.9" y1="539.2" x2="49.9" y2="544.8" stroke="#161616" stroke-width="1.15" stroke-linecap="butt"/>
<line x1="66.28" y1="539.2" x2="66.28" y2="542.2" stroke="#161616" stroke-width="0.9" stroke-linecap="butt"/>
<line x1="75.86" y1="539.2" x2="75.86" y2="542.2" stroke="#161616" stroke-width="0.9" stroke-linecap="butt"/>
<line x1="82.65" y1="539.2" x2="82.65" y2="542.2" stroke="#161616" stroke-width="0.9" stroke-linecap="butt"/>
<line x1="87.92" y1="539.2" x2="87.92" y2="542.2" stroke="#161616" stroke-width="0.9" stroke-linecap="butt"/>
<line x1="92.23" y1="539.2" x2="92.23" y2="542.2" stroke="#161616" stroke-width="0.9" stroke-linecap="butt"/>
<line x1="95.87" y1="539.2" x2="95.87" y2="542.2" stroke="#161616" stroke-width="0.9" stroke-linecap="butt"/>
<line x1="99.03" y1="539.2" x2="99.03" y2="542.2" stroke="#161616" stroke-width="0.9" stroke-linecap="butt"/>
<line x1="101.81" y1="539.2" x2="101.81" y2="542.2" stroke="#161616" stroke-width="0.9" stroke-linecap="butt"/>
<line x1="104.3" y1="539.2" x2="104.3" y2="544.8" stroke="#161616" stroke-width="1.15" stroke-linecap="butt"/>
<line x1="120.68" y1="539.2" x2="120.68" y2="542.2" stroke="#161616" stroke-width="0.9" stroke-linecap="butt"/>
<line x1="130.26" y1="539.2" x2="130.26" y2="542.2" stroke="#161616" stroke-width="0.9" stroke-linecap="butt"/>
<line x1="137.05" y1="539.2" x2="137.05" y2="542.2" stroke="#161616" stroke-width="0.9" stroke-linecap="butt"/>
<line x1="142.32" y1="539.2" x2="142.32" y2="542.2" stroke="#161616" stroke-width="0.9" stroke-linecap="butt"/>
<line x1="146.63" y1="539.2" x2="146.63" y2="542.2" stroke="#161616" stroke-width="0.9" stroke-linecap="butt"/>
<line x1="150.27" y1="539.2" x2="150.27" y2="542.2" stroke="#161616" stroke-width="0.9" stroke-linecap="butt"/>
<line x1="153.43" y1="539.2" x2="153.43" y2="542.2" stroke="#161616" stroke-width="0.9" stroke-linecap="butt"/>
<line x1="156.21" y1="539.2" x2="156.21" y2="542.2" stroke="#161616" stroke-width="0.9" stroke-linecap="butt"/>
<line x1="158.7" y1="539.2" x2="158.7" y2="544.8" stroke="#161616" stroke-width="1.15" stroke-linecap="butt"/>
<line x1="175.08" y1="539.2" x2="175.08" y2="542.2" stroke="#161616" stroke-width="0.9" stroke-linecap="butt"/>
<line x1="184.66" y1="539.2" x2="184.66" y2="542.2" stroke="#161616" stroke-width="0.9" stroke-linecap="butt"/>
<line x1="191.45" y1="539.2" x2="191.45" y2="542.2" stroke="#161616" stroke-width="0.9" stroke-linecap="butt"/>
<line x1="196.72" y1="539.2" x2="196.72" y2="542.2" stroke="#161616" stroke-width="0.9" stroke-linecap="butt"/>
<line x1="201.03" y1="539.2" x2="201.03" y2="542.2" stroke="#161616" stroke-width="0.9" stroke-linecap="butt"/>
<line x1="204.67" y1="539.2" x2="204.67" y2="542.2" stroke="#161616" stroke-width="0.9" stroke-linecap="butt"/>
<line x1="207.83" y1="539.2" x2="207.83" y2="542.2" stroke="#161616" stroke-width="0.9" stroke-linecap="butt"/>
<line x1="210.61" y1="539.2" x2="210.61" y2="542.2" stroke="#161616" stroke-width="0.9" stroke-linecap="butt"/>
<line x1="213.1" y1="539.2" x2="213.1" y2="544.8" stroke="#161616" stroke-width="1.15" stroke-linecap="butt"/>
<line x1="229.48" y1="539.2" x2="229.48" y2="542.2" stroke="#161616" stroke-width="0.9" stroke-linecap="butt"/>
<line x1="239.06" y1="539.2" x2="239.06" y2="542.2" stroke="#161616" stroke-width="0.9" stroke-linecap="butt"/>
<line x1="245.85" y1="539.2" x2="245.85" y2="542.2" stroke="#161616" stroke-width="0.9" stroke-linecap="butt"/>
<line x1="251.12" y1="539.2" x2="251.12" y2="542.2" stroke="#161616" stroke-width="0.9" stroke-linecap="butt"/>
<line x1="255.43" y1="539.2" x2="255.43" y2="542.2" stroke="#161616" stroke-width="0.9" stroke-linecap="butt"/>
<line x1="259.07" y1="539.2" x2="259.07" y2="542.2" stroke="#161616" stroke-width="0.9" stroke-linecap="butt"/>
<line x1="262.23" y1="539.2" x2="262.23" y2="542.2" stroke="#161616" stroke-width="0.9" stroke-linecap="butt"/>
<line x1="265.01" y1="539.2" x2="265.01" y2="542.2" stroke="#161616" stroke-width="0.9" stroke-linecap="butt"/>
<line x1="267.5" y1="539.2" x2="267.5" y2="544.8" stroke="#161616" stroke-width="1.15" stroke-linecap="butt"/>
<text x="53.4" y="559.7" font-family='"Liberation Sans", sans-serif' font-size="10" font-weight="normal" font-style="normal" text-anchor="start" fill="#161616" textLength="10" lengthAdjust="spacingAndGlyphs" stroke="#161616" stroke-width="0.2">10</text>
<text x="64.5" y="553.1" font-family='"Liberation Sans", sans-serif' font-size="10" font-weight="normal" font-style="normal" text-anchor="start" fill="#161616" textLength="5.3" lengthAdjust="spacingAndGlyphs" stroke="#161616" stroke-width="0.2">0</text>
<text x="100" y="559.7" font-family='"Liberation Sans", sans-serif' font-size="10" font-weight="normal" font-style="normal" text-anchor="start" fill="#161616" textLength="10" lengthAdjust="spacingAndGlyphs" stroke="#161616" stroke-width="0.2">10</text>
<text x="111.1" y="553.1" font-family='"Liberation Sans", sans-serif' font-size="10" font-weight="normal" font-style="normal" text-anchor="start" fill="#161616" textLength="5.3" lengthAdjust="spacingAndGlyphs" stroke="#161616" stroke-width="0.2">1</text>
<text x="151.9" y="559.7" font-family='"Liberation Sans", sans-serif' font-size="10" font-weight="normal" font-style="normal" text-anchor="start" fill="#161616" textLength="10" lengthAdjust="spacingAndGlyphs" stroke="#161616" stroke-width="0.2">10</text>
<text x="163" y="553.1" font-family='"Liberation Sans", sans-serif' font-size="10" font-weight="normal" font-style="normal" text-anchor="start" fill="#161616" textLength="5.3" lengthAdjust="spacingAndGlyphs" stroke="#161616" stroke-width="0.2">2</text>
<text x="202" y="559.7" font-family='"Liberation Sans", sans-serif' font-size="10" font-weight="normal" font-style="normal" text-anchor="start" fill="#161616" textLength="10" lengthAdjust="spacingAndGlyphs" stroke="#161616" stroke-width="0.2">10</text>
<text x="213.1" y="553.1" font-family='"Liberation Sans", sans-serif' font-size="10" font-weight="normal" font-style="normal" text-anchor="start" fill="#161616" textLength="5.3" lengthAdjust="spacingAndGlyphs" stroke="#161616" stroke-width="0.2">3</text>
<text x="253.9" y="559.7" font-family='"Liberation Sans", sans-serif' font-size="10" font-weight="normal" font-style="normal" text-anchor="start" fill="#161616" textLength="10" lengthAdjust="spacingAndGlyphs" stroke="#161616" stroke-width="0.2">10</text>
<text x="265" y="553.1" font-family='"Liberation Sans", sans-serif' font-size="10" font-weight="normal" font-style="normal" text-anchor="start" fill="#161616" textLength="5.3" lengthAdjust="spacingAndGlyphs" stroke="#161616" stroke-width="0.2">4</text>
<polyline fill="none" stroke="#161616" stroke-width="1.5" stroke-linejoin="round" stroke-linecap="round" points="50.2,492 50.6,515 51,500 51.5,522 52.2,530 53.4,536.7 56,537.6 87.7,537.6 88.2,538.4 130,538.3 158,538 160.5,537.6 166,536.8 170,535.3 174.2,529.6 177.6,520 180.5,513.4 186.2,487.6 188.7,470 190.6,455 192.5,440 194.9,420 195.9,406.1 196.9,393.9 197.9,383.7 200,372.5 201.5,363.9 202.7,360.8 204,362.2 205.1,362.9 206.1,355.2 207.4,350.2 208.6,356.3 210.4,365.4 211.7,380.7 213.2,394.9 214.7,411.1 215.9,420 216.7,424.8 218.6,449.6 220.5,468.6 223.4,491.5 226.2,512.4 230.1,525.8 233.9,534.3 239.6,537.9 267.3,538.2"/>
<polyline fill="none" stroke="#161616" stroke-width="1.5" stroke-linejoin="round" stroke-linecap="round" points="49.9,496 50.9,530 51.6,538"/>
<rect x="298.5" y="337.7" width="219.9" height="201.5" fill="none" stroke="#161616" stroke-width="1.4"/>
<line x1="292.3" y1="539.3" x2="298.5" y2="539.3" stroke="#161616" stroke-width="1.15" stroke-linecap="butt"/>
<line x1="295.3" y1="532.05" x2="298.5" y2="532.05" stroke="#161616" stroke-width="1" stroke-linecap="butt"/>
<line x1="295.3" y1="524.81" x2="298.5" y2="524.81" stroke="#161616" stroke-width="1" stroke-linecap="butt"/>
<line x1="295.3" y1="517.56" x2="298.5" y2="517.56" stroke="#161616" stroke-width="1" stroke-linecap="butt"/>
<line x1="295.3" y1="510.32" x2="298.5" y2="510.32" stroke="#161616" stroke-width="1" stroke-linecap="butt"/>
<line x1="292.3" y1="503.07" x2="298.5" y2="503.07" stroke="#161616" stroke-width="1.15" stroke-linecap="butt"/>
<line x1="295.3" y1="495.83" x2="298.5" y2="495.83" stroke="#161616" stroke-width="1" stroke-linecap="butt"/>
<line x1="295.3" y1="488.58" x2="298.5" y2="488.58" stroke="#161616" stroke-width="1" stroke-linecap="butt"/>
<line x1="295.3" y1="481.34" x2="298.5" y2="481.34" stroke="#161616" stroke-width="1" stroke-linecap="butt"/>
<line x1="295.3" y1="474.09" x2="298.5" y2="474.09" stroke="#161616" stroke-width="1" stroke-linecap="butt"/>
<line x1="292.3" y1="466.85" x2="298.5" y2="466.85" stroke="#161616" stroke-width="1.15" stroke-linecap="butt"/>
<line x1="295.3" y1="459.6" x2="298.5" y2="459.6" stroke="#161616" stroke-width="1" stroke-linecap="butt"/>
<line x1="295.3" y1="452.36" x2="298.5" y2="452.36" stroke="#161616" stroke-width="1" stroke-linecap="butt"/>
<line x1="295.3" y1="445.11" x2="298.5" y2="445.11" stroke="#161616" stroke-width="1" stroke-linecap="butt"/>
<line x1="295.3" y1="437.87" x2="298.5" y2="437.87" stroke="#161616" stroke-width="1" stroke-linecap="butt"/>
<line x1="292.3" y1="430.62" x2="298.5" y2="430.62" stroke="#161616" stroke-width="1.15" stroke-linecap="butt"/>
<line x1="295.3" y1="423.38" x2="298.5" y2="423.38" stroke="#161616" stroke-width="1" stroke-linecap="butt"/>
<line x1="295.3" y1="416.13" x2="298.5" y2="416.13" stroke="#161616" stroke-width="1" stroke-linecap="butt"/>
<line x1="295.3" y1="408.89" x2="298.5" y2="408.89" stroke="#161616" stroke-width="1" stroke-linecap="butt"/>
<line x1="295.3" y1="401.64" x2="298.5" y2="401.64" stroke="#161616" stroke-width="1" stroke-linecap="butt"/>
<line x1="292.3" y1="394.4" x2="298.5" y2="394.4" stroke="#161616" stroke-width="1.15" stroke-linecap="butt"/>
<line x1="295.3" y1="387.15" x2="298.5" y2="387.15" stroke="#161616" stroke-width="1" stroke-linecap="butt"/>
<line x1="295.3" y1="379.91" x2="298.5" y2="379.91" stroke="#161616" stroke-width="1" stroke-linecap="butt"/>
<line x1="295.3" y1="372.66" x2="298.5" y2="372.66" stroke="#161616" stroke-width="1" stroke-linecap="butt"/>
<line x1="295.3" y1="365.42" x2="298.5" y2="365.42" stroke="#161616" stroke-width="1" stroke-linecap="butt"/>
<line x1="292.3" y1="358.17" x2="298.5" y2="358.17" stroke="#161616" stroke-width="1.15" stroke-linecap="butt"/>
<line x1="295.3" y1="350.93" x2="298.5" y2="350.93" stroke="#161616" stroke-width="1" stroke-linecap="butt"/>
<line x1="295.3" y1="343.68" x2="298.5" y2="343.68" stroke="#161616" stroke-width="1" stroke-linecap="butt"/>
<text x="287.8" y="539.7" font-family='"Liberation Sans", sans-serif' font-size="9.6" font-weight="normal" font-style="normal" text-anchor="end" fill="#161616" textLength="5.6" lengthAdjust="spacingAndGlyphs" stroke="#161616" stroke-width="0.2">0</text>
<text x="287.8" y="506.47" font-family='"Liberation Sans", sans-serif' font-size="9.6" font-weight="normal" font-style="normal" text-anchor="end" fill="#161616" textLength="11.2" lengthAdjust="spacingAndGlyphs" stroke="#161616" stroke-width="0.2">50</text>
<text x="287.8" y="470.25" font-family='"Liberation Sans", sans-serif' font-size="9.6" font-weight="normal" font-style="normal" text-anchor="end" fill="#161616" textLength="16.8" lengthAdjust="spacingAndGlyphs" stroke="#161616" stroke-width="0.2">100</text>
<text x="287.8" y="434.02" font-family='"Liberation Sans", sans-serif' font-size="9.6" font-weight="normal" font-style="normal" text-anchor="end" fill="#161616" textLength="16.8" lengthAdjust="spacingAndGlyphs" stroke="#161616" stroke-width="0.2">150</text>
<text x="287.8" y="397.8" font-family='"Liberation Sans", sans-serif' font-size="9.6" font-weight="normal" font-style="normal" text-anchor="end" fill="#161616" textLength="16.8" lengthAdjust="spacingAndGlyphs" stroke="#161616" stroke-width="0.2">200</text>
<text x="287.8" y="361.57" font-family='"Liberation Sans", sans-serif' font-size="9.6" font-weight="normal" font-style="normal" text-anchor="end" fill="#161616" textLength="16.8" lengthAdjust="spacingAndGlyphs" stroke="#161616" stroke-width="0.2">250</text>
<line x1="298.5" y1="539.2" x2="298.5" y2="544.8" stroke="#161616" stroke-width="1.15" stroke-linecap="butt"/>
<line x1="315.05" y1="539.2" x2="315.05" y2="542.2" stroke="#161616" stroke-width="0.9" stroke-linecap="butt"/>
<line x1="324.73" y1="539.2" x2="324.73" y2="542.2" stroke="#161616" stroke-width="0.9" stroke-linecap="butt"/>
<line x1="331.6" y1="539.2" x2="331.6" y2="542.2" stroke="#161616" stroke-width="0.9" stroke-linecap="butt"/>
<line x1="336.93" y1="539.2" x2="336.93" y2="542.2" stroke="#161616" stroke-width="0.9" stroke-linecap="butt"/>
<line x1="341.28" y1="539.2" x2="341.28" y2="542.2" stroke="#161616" stroke-width="0.9" stroke-linecap="butt"/>
<line x1="344.96" y1="539.2" x2="344.96" y2="542.2" stroke="#161616" stroke-width="0.9" stroke-linecap="butt"/>
<line x1="348.15" y1="539.2" x2="348.15" y2="542.2" stroke="#161616" stroke-width="0.9" stroke-linecap="butt"/>
<line x1="350.96" y1="539.2" x2="350.96" y2="542.2" stroke="#161616" stroke-width="0.9" stroke-linecap="butt"/>
<line x1="353.48" y1="539.2" x2="353.48" y2="544.8" stroke="#161616" stroke-width="1.15" stroke-linecap="butt"/>
<line x1="370.02" y1="539.2" x2="370.02" y2="542.2" stroke="#161616" stroke-width="0.9" stroke-linecap="butt"/>
<line x1="379.7" y1="539.2" x2="379.7" y2="542.2" stroke="#161616" stroke-width="0.9" stroke-linecap="butt"/>
<line x1="386.57" y1="539.2" x2="386.57" y2="542.2" stroke="#161616" stroke-width="0.9" stroke-linecap="butt"/>
<line x1="391.9" y1="539.2" x2="391.9" y2="542.2" stroke="#161616" stroke-width="0.9" stroke-linecap="butt"/>
<line x1="396.25" y1="539.2" x2="396.25" y2="542.2" stroke="#161616" stroke-width="0.9" stroke-linecap="butt"/>
<line x1="399.93" y1="539.2" x2="399.93" y2="542.2" stroke="#161616" stroke-width="0.9" stroke-linecap="butt"/>
<line x1="403.12" y1="539.2" x2="403.12" y2="542.2" stroke="#161616" stroke-width="0.9" stroke-linecap="butt"/>
<line x1="405.93" y1="539.2" x2="405.93" y2="542.2" stroke="#161616" stroke-width="0.9" stroke-linecap="butt"/>
<line x1="408.45" y1="539.2" x2="408.45" y2="544.8" stroke="#161616" stroke-width="1.15" stroke-linecap="butt"/>
<line x1="425" y1="539.2" x2="425" y2="542.2" stroke="#161616" stroke-width="0.9" stroke-linecap="butt"/>
<line x1="434.68" y1="539.2" x2="434.68" y2="542.2" stroke="#161616" stroke-width="0.9" stroke-linecap="butt"/>
<line x1="441.55" y1="539.2" x2="441.55" y2="542.2" stroke="#161616" stroke-width="0.9" stroke-linecap="butt"/>
<line x1="446.88" y1="539.2" x2="446.88" y2="542.2" stroke="#161616" stroke-width="0.9" stroke-linecap="butt"/>
<line x1="451.23" y1="539.2" x2="451.23" y2="542.2" stroke="#161616" stroke-width="0.9" stroke-linecap="butt"/>
<line x1="454.91" y1="539.2" x2="454.91" y2="542.2" stroke="#161616" stroke-width="0.9" stroke-linecap="butt"/>
<line x1="458.1" y1="539.2" x2="458.1" y2="542.2" stroke="#161616" stroke-width="0.9" stroke-linecap="butt"/>
<line x1="460.91" y1="539.2" x2="460.91" y2="542.2" stroke="#161616" stroke-width="0.9" stroke-linecap="butt"/>
<line x1="463.42" y1="539.2" x2="463.42" y2="544.8" stroke="#161616" stroke-width="1.15" stroke-linecap="butt"/>
<line x1="479.97" y1="539.2" x2="479.97" y2="542.2" stroke="#161616" stroke-width="0.9" stroke-linecap="butt"/>
<line x1="489.65" y1="539.2" x2="489.65" y2="542.2" stroke="#161616" stroke-width="0.9" stroke-linecap="butt"/>
<line x1="496.52" y1="539.2" x2="496.52" y2="542.2" stroke="#161616" stroke-width="0.9" stroke-linecap="butt"/>
<line x1="501.85" y1="539.2" x2="501.85" y2="542.2" stroke="#161616" stroke-width="0.9" stroke-linecap="butt"/>
<line x1="506.2" y1="539.2" x2="506.2" y2="542.2" stroke="#161616" stroke-width="0.9" stroke-linecap="butt"/>
<line x1="509.88" y1="539.2" x2="509.88" y2="542.2" stroke="#161616" stroke-width="0.9" stroke-linecap="butt"/>
<line x1="513.07" y1="539.2" x2="513.07" y2="542.2" stroke="#161616" stroke-width="0.9" stroke-linecap="butt"/>
<line x1="515.88" y1="539.2" x2="515.88" y2="542.2" stroke="#161616" stroke-width="0.9" stroke-linecap="butt"/>
<line x1="518.4" y1="539.2" x2="518.4" y2="544.8" stroke="#161616" stroke-width="1.15" stroke-linecap="butt"/>
<text x="301.4" y="560" font-family='"Liberation Sans", sans-serif' font-size="10" font-weight="normal" font-style="normal" text-anchor="start" fill="#161616" textLength="10" lengthAdjust="spacingAndGlyphs" stroke="#161616" stroke-width="0.2">10</text>
<text x="312.5" y="553.4" font-family='"Liberation Sans", sans-serif' font-size="10" font-weight="normal" font-style="normal" text-anchor="start" fill="#161616" textLength="5.3" lengthAdjust="spacingAndGlyphs" stroke="#161616" stroke-width="0.2">0</text>
<text x="348.7" y="560" font-family='"Liberation Sans", sans-serif' font-size="10" font-weight="normal" font-style="normal" text-anchor="start" fill="#161616" textLength="10" lengthAdjust="spacingAndGlyphs" stroke="#161616" stroke-width="0.2">10</text>
<text x="359.8" y="553.4" font-family='"Liberation Sans", sans-serif' font-size="10" font-weight="normal" font-style="normal" text-anchor="start" fill="#161616" textLength="5.3" lengthAdjust="spacingAndGlyphs" stroke="#161616" stroke-width="0.2">1</text>
<text x="401.5" y="560" font-family='"Liberation Sans", sans-serif' font-size="10" font-weight="normal" font-style="normal" text-anchor="start" fill="#161616" textLength="10" lengthAdjust="spacingAndGlyphs" stroke="#161616" stroke-width="0.2">10</text>
<text x="412.6" y="553.4" font-family='"Liberation Sans", sans-serif' font-size="10" font-weight="normal" font-style="normal" text-anchor="start" fill="#161616" textLength="5.3" lengthAdjust="spacingAndGlyphs" stroke="#161616" stroke-width="0.2">2</text>
<text x="451.9" y="560" font-family='"Liberation Sans", sans-serif' font-size="10" font-weight="normal" font-style="normal" text-anchor="start" fill="#161616" textLength="10" lengthAdjust="spacingAndGlyphs" stroke="#161616" stroke-width="0.2">10</text>
<text x="463" y="553.4" font-family='"Liberation Sans", sans-serif' font-size="10" font-weight="normal" font-style="normal" text-anchor="start" fill="#161616" textLength="5.3" lengthAdjust="spacingAndGlyphs" stroke="#161616" stroke-width="0.2">3</text>
<text x="504.3" y="560" font-family='"Liberation Sans", sans-serif' font-size="10" font-weight="normal" font-style="normal" text-anchor="start" fill="#161616" textLength="10" lengthAdjust="spacingAndGlyphs" stroke="#161616" stroke-width="0.2">10</text>
<text x="515.4" y="553.4" font-family='"Liberation Sans", sans-serif' font-size="10" font-weight="normal" font-style="normal" text-anchor="start" fill="#161616" textLength="5.3" lengthAdjust="spacingAndGlyphs" stroke="#161616" stroke-width="0.2">4</text>
<polyline fill="none" stroke="#161616" stroke-width="1.5" stroke-linejoin="round" stroke-linecap="round" points="298.6,476 299.2,508 299.6,488 300.2,522 300.9,537.2 304,537.6 308.1,536.8 314,537.4 321.5,537.6 327,536.6 332.9,535.9 338.6,536.6 345.3,533.8 351,531.5 353.9,526.7 358.6,518.1 363.4,503.8 367.6,494.3 371,474.3 373.9,459.1 375.8,436.3 377.7,424.8 381.1,411.5 384,395.3 386.6,382.9 388.2,361.9 391,359.1 392.9,355.3 394.8,353.9 396.2,358.1 397.3,368.6 398.6,373.4 401.1,367.6 402.5,377.2 404,393.4 406.8,401 410,419.1 412.9,443.9 415.7,451.4 418.6,464.8 420.5,475.3 422.4,479.1 424.3,478.1 427.2,487.6 429.1,490.5 431.9,487.6 434.8,485.4 436.7,476.2 438.6,469.5 441.1,466.7 443.4,455.2 445.3,448.6 448.1,443.8 451,435.3 454.4,415.3 456.7,403.9 459,407.7 461.5,393.4 462.4,387.7 463.4,395.3 464.7,398.1 466.6,396.6 469.1,402 471,417.2 472.9,442 474.8,462.9 477.7,491.5 479.6,512.4 481.5,523.9 483.8,531.5 487.2,535.7 492.9,538 518.1,538.4"/>
<polyline fill="none" stroke="#161616" stroke-width="1.5" stroke-linejoin="round" stroke-linecap="round" points="298.5,482 299.5,528 300.4,538.5"/>
<rect x="548.6" y="334" width="218.8" height="202.9" fill="none" stroke="#161616" stroke-width="1.4"/>
<line x1="542.4" y1="537.4" x2="548.6" y2="537.4" stroke="#161616" stroke-width="1.15" stroke-linecap="butt"/>
<line x1="545.4" y1="527.83" x2="548.6" y2="527.83" stroke="#161616" stroke-width="1" stroke-linecap="butt"/>
<line x1="545.4" y1="518.26" x2="548.6" y2="518.26" stroke="#161616" stroke-width="1" stroke-linecap="butt"/>
<line x1="545.4" y1="508.69" x2="548.6" y2="508.69" stroke="#161616" stroke-width="1" stroke-linecap="butt"/>
<line x1="545.4" y1="499.12" x2="548.6" y2="499.12" stroke="#161616" stroke-width="1" stroke-linecap="butt"/>
<line x1="542.4" y1="489.55" x2="548.6" y2="489.55" stroke="#161616" stroke-width="1.15" stroke-linecap="butt"/>
<line x1="545.4" y1="479.98" x2="548.6" y2="479.98" stroke="#161616" stroke-width="1" stroke-linecap="butt"/>
<line x1="545.4" y1="470.41" x2="548.6" y2="470.41" stroke="#161616" stroke-width="1" stroke-linecap="butt"/>
<line x1="545.4" y1="460.84" x2="548.6" y2="460.84" stroke="#161616" stroke-width="1" stroke-linecap="butt"/>
<line x1="545.4" y1="451.27" x2="548.6" y2="451.27" stroke="#161616" stroke-width="1" stroke-linecap="butt"/>
<line x1="542.4" y1="441.7" x2="548.6" y2="441.7" stroke="#161616" stroke-width="1.15" stroke-linecap="butt"/>
<line x1="545.4" y1="432.13" x2="548.6" y2="432.13" stroke="#161616" stroke-width="1" stroke-linecap="butt"/>
<line x1="545.4" y1="422.56" x2="548.6" y2="422.56" stroke="#161616" stroke-width="1" stroke-linecap="butt"/>
<line x1="545.4" y1="412.99" x2="548.6" y2="412.99" stroke="#161616" stroke-width="1" stroke-linecap="butt"/>
<line x1="545.4" y1="403.42" x2="548.6" y2="403.42" stroke="#161616" stroke-width="1" stroke-linecap="butt"/>
<line x1="542.4" y1="393.85" x2="548.6" y2="393.85" stroke="#161616" stroke-width="1.15" stroke-linecap="butt"/>
<line x1="545.4" y1="384.28" x2="548.6" y2="384.28" stroke="#161616" stroke-width="1" stroke-linecap="butt"/>
<line x1="545.4" y1="374.71" x2="548.6" y2="374.71" stroke="#161616" stroke-width="1" stroke-linecap="butt"/>
<line x1="545.4" y1="365.14" x2="548.6" y2="365.14" stroke="#161616" stroke-width="1" stroke-linecap="butt"/>
<line x1="545.4" y1="355.57" x2="548.6" y2="355.57" stroke="#161616" stroke-width="1" stroke-linecap="butt"/>
<line x1="542.4" y1="346" x2="548.6" y2="346" stroke="#161616" stroke-width="1.15" stroke-linecap="butt"/>
<line x1="545.4" y1="336.43" x2="548.6" y2="336.43" stroke="#161616" stroke-width="1" stroke-linecap="butt"/>
<text x="538.6" y="536.8" font-family='"Liberation Sans", sans-serif' font-size="9.6" font-weight="normal" font-style="normal" text-anchor="end" fill="#161616" textLength="5.6" lengthAdjust="spacingAndGlyphs" stroke="#161616" stroke-width="0.2">0</text>
<text x="538.6" y="492.95" font-family='"Liberation Sans", sans-serif' font-size="9.6" font-weight="normal" font-style="normal" text-anchor="end" fill="#161616" textLength="11.2" lengthAdjust="spacingAndGlyphs" stroke="#161616" stroke-width="0.2">50</text>
<text x="538.6" y="445.1" font-family='"Liberation Sans", sans-serif' font-size="9.6" font-weight="normal" font-style="normal" text-anchor="end" fill="#161616" textLength="16.8" lengthAdjust="spacingAndGlyphs" stroke="#161616" stroke-width="0.2">100</text>
<text x="538.6" y="397.25" font-family='"Liberation Sans", sans-serif' font-size="9.6" font-weight="normal" font-style="normal" text-anchor="end" fill="#161616" textLength="16.8" lengthAdjust="spacingAndGlyphs" stroke="#161616" stroke-width="0.2">150</text>
<text x="538.6" y="349.4" font-family='"Liberation Sans", sans-serif' font-size="9.6" font-weight="normal" font-style="normal" text-anchor="end" fill="#161616" textLength="16.8" lengthAdjust="spacingAndGlyphs" stroke="#161616" stroke-width="0.2">200</text>
<line x1="548.6" y1="536.9" x2="548.6" y2="542.5" stroke="#161616" stroke-width="1.15" stroke-linecap="butt"/>
<line x1="565.07" y1="536.9" x2="565.07" y2="539.9" stroke="#161616" stroke-width="0.9" stroke-linecap="butt"/>
<line x1="574.7" y1="536.9" x2="574.7" y2="539.9" stroke="#161616" stroke-width="0.9" stroke-linecap="butt"/>
<line x1="581.53" y1="536.9" x2="581.53" y2="539.9" stroke="#161616" stroke-width="0.9" stroke-linecap="butt"/>
<line x1="586.83" y1="536.9" x2="586.83" y2="539.9" stroke="#161616" stroke-width="0.9" stroke-linecap="butt"/>
<line x1="591.16" y1="536.9" x2="591.16" y2="539.9" stroke="#161616" stroke-width="0.9" stroke-linecap="butt"/>
<line x1="594.83" y1="536.9" x2="594.83" y2="539.9" stroke="#161616" stroke-width="0.9" stroke-linecap="butt"/>
<line x1="598" y1="536.9" x2="598" y2="539.9" stroke="#161616" stroke-width="0.9" stroke-linecap="butt"/>
<line x1="600.8" y1="536.9" x2="600.8" y2="539.9" stroke="#161616" stroke-width="0.9" stroke-linecap="butt"/>
<line x1="603.3" y1="536.9" x2="603.3" y2="542.5" stroke="#161616" stroke-width="1.15" stroke-linecap="butt"/>
<line x1="619.77" y1="536.9" x2="619.77" y2="539.9" stroke="#161616" stroke-width="0.9" stroke-linecap="butt"/>
<line x1="629.4" y1="536.9" x2="629.4" y2="539.9" stroke="#161616" stroke-width="0.9" stroke-linecap="butt"/>
<line x1="636.23" y1="536.9" x2="636.23" y2="539.9" stroke="#161616" stroke-width="0.9" stroke-linecap="butt"/>
<line x1="641.53" y1="536.9" x2="641.53" y2="539.9" stroke="#161616" stroke-width="0.9" stroke-linecap="butt"/>
<line x1="645.86" y1="536.9" x2="645.86" y2="539.9" stroke="#161616" stroke-width="0.9" stroke-linecap="butt"/>
<line x1="649.53" y1="536.9" x2="649.53" y2="539.9" stroke="#161616" stroke-width="0.9" stroke-linecap="butt"/>
<line x1="652.7" y1="536.9" x2="652.7" y2="539.9" stroke="#161616" stroke-width="0.9" stroke-linecap="butt"/>
<line x1="655.5" y1="536.9" x2="655.5" y2="539.9" stroke="#161616" stroke-width="0.9" stroke-linecap="butt"/>
<line x1="658" y1="536.9" x2="658" y2="542.5" stroke="#161616" stroke-width="1.15" stroke-linecap="butt"/>
<line x1="674.47" y1="536.9" x2="674.47" y2="539.9" stroke="#161616" stroke-width="0.9" stroke-linecap="butt"/>
<line x1="684.1" y1="536.9" x2="684.1" y2="539.9" stroke="#161616" stroke-width="0.9" stroke-linecap="butt"/>
<line x1="690.93" y1="536.9" x2="690.93" y2="539.9" stroke="#161616" stroke-width="0.9" stroke-linecap="butt"/>
<line x1="696.23" y1="536.9" x2="696.23" y2="539.9" stroke="#161616" stroke-width="0.9" stroke-linecap="butt"/>
<line x1="700.56" y1="536.9" x2="700.56" y2="539.9" stroke="#161616" stroke-width="0.9" stroke-linecap="butt"/>
<line x1="704.23" y1="536.9" x2="704.23" y2="539.9" stroke="#161616" stroke-width="0.9" stroke-linecap="butt"/>
<line x1="707.4" y1="536.9" x2="707.4" y2="539.9" stroke="#161616" stroke-width="0.9" stroke-linecap="butt"/>
<line x1="710.2" y1="536.9" x2="710.2" y2="539.9" stroke="#161616" stroke-width="0.9" stroke-linecap="butt"/>
<line x1="712.7" y1="536.9" x2="712.7" y2="542.5" stroke="#161616" stroke-width="1.15" stroke-linecap="butt"/>
<line x1="729.17" y1="536.9" x2="729.17" y2="539.9" stroke="#161616" stroke-width="0.9" stroke-linecap="butt"/>
<line x1="738.8" y1="536.9" x2="738.8" y2="539.9" stroke="#161616" stroke-width="0.9" stroke-linecap="butt"/>
<line x1="745.63" y1="536.9" x2="745.63" y2="539.9" stroke="#161616" stroke-width="0.9" stroke-linecap="butt"/>
<line x1="750.93" y1="536.9" x2="750.93" y2="539.9" stroke="#161616" stroke-width="0.9" stroke-linecap="butt"/>
<line x1="755.26" y1="536.9" x2="755.26" y2="539.9" stroke="#161616" stroke-width="0.9" stroke-linecap="butt"/>
<line x1="758.93" y1="536.9" x2="758.93" y2="539.9" stroke="#161616" stroke-width="0.9" stroke-linecap="butt"/>
<line x1="762.1" y1="536.9" x2="762.1" y2="539.9" stroke="#161616" stroke-width="0.9" stroke-linecap="butt"/>
<line x1="764.9" y1="536.9" x2="764.9" y2="539.9" stroke="#161616" stroke-width="0.9" stroke-linecap="butt"/>
<line x1="767.4" y1="536.9" x2="767.4" y2="542.5" stroke="#161616" stroke-width="1.15" stroke-linecap="butt"/>
<text x="552.3" y="557.2" font-family='"Liberation Sans", sans-serif' font-size="10" font-weight="normal" font-style="normal" text-anchor="start" fill="#161616" textLength="10" lengthAdjust="spacingAndGlyphs" stroke="#161616" stroke-width="0.2">10</text>
<text x="563.4" y="550.6" font-family='"Liberation Sans", sans-serif' font-size="10" font-weight="normal" font-style="normal" text-anchor="start" fill="#161616" textLength="5.3" lengthAdjust="spacingAndGlyphs" stroke="#161616" stroke-width="0.2">0</text>
<text x="599.2" y="557.2" font-family='"Liberation Sans", sans-serif' font-size="10" font-weight="normal" font-style="normal" text-anchor="start" fill="#161616" textLength="10" lengthAdjust="spacingAndGlyphs" stroke="#161616" stroke-width="0.2">10</text>
<text x="610.3" y="550.6" font-family='"Liberation Sans", sans-serif' font-size="10" font-weight="normal" font-style="normal" text-anchor="start" fill="#161616" textLength="5.3" lengthAdjust="spacingAndGlyphs" stroke="#161616" stroke-width="0.2">1</text>
<text x="650.9" y="557.2" font-family='"Liberation Sans", sans-serif' font-size="10" font-weight="normal" font-style="normal" text-anchor="start" fill="#161616" textLength="10" lengthAdjust="spacingAndGlyphs" stroke="#161616" stroke-width="0.2">10</text>
<text x="662" y="550.6" font-family='"Liberation Sans", sans-serif' font-size="10" font-weight="normal" font-style="normal" text-anchor="start" fill="#161616" textLength="5.3" lengthAdjust="spacingAndGlyphs" stroke="#161616" stroke-width="0.2">2</text>
<text x="701.8" y="557.2" font-family='"Liberation Sans", sans-serif' font-size="10" font-weight="normal" font-style="normal" text-anchor="start" fill="#161616" textLength="10" lengthAdjust="spacingAndGlyphs" stroke="#161616" stroke-width="0.2">10</text>
<text x="712.9" y="550.6" font-family='"Liberation Sans", sans-serif' font-size="10" font-weight="normal" font-style="normal" text-anchor="start" fill="#161616" textLength="5.3" lengthAdjust="spacingAndGlyphs" stroke="#161616" stroke-width="0.2">3</text>
<text x="753.6" y="557.2" font-family='"Liberation Sans", sans-serif' font-size="10" font-weight="normal" font-style="normal" text-anchor="start" fill="#161616" textLength="10" lengthAdjust="spacingAndGlyphs" stroke="#161616" stroke-width="0.2">10</text>
<text x="764.7" y="550.6" font-family='"Liberation Sans", sans-serif' font-size="10" font-weight="normal" font-style="normal" text-anchor="start" fill="#161616" textLength="5.3" lengthAdjust="spacingAndGlyphs" stroke="#161616" stroke-width="0.2">4</text>
<polyline fill="none" stroke="#161616" stroke-width="1.5" stroke-linejoin="round" stroke-linecap="round" points="548.6,535.7 637,535.7 655,535.7 663.7,535.3 669.4,534.3 673.2,529.6 677,520 679.9,508.6 682.7,493.4 684.6,468.6 686.9,447.7 689.4,440.1 691.9,400 695.1,375.3 697,355.3 698.9,348.6 700.3,356.2 702.2,374.3 704.7,371.1 706,375.3 709,411.5 713.2,424.8 718,416.2 721.8,413.4 723.7,405.8 725.6,371.5 726.6,361.9 728.5,360 730,367.6 732.3,400 734.2,424.8 736.1,464.8 738,487.6 740.9,502.9 743.7,514.3 747.5,519.1 751.4,523.9 755.2,528.6 760.9,531.9 764.7,533.4 767.2,535.3"/>
<text x="121.1" y="33.6" font-family='"Liberation Serif", serif' font-size="17" font-weight="normal" font-style="normal" text-anchor="start" fill="#161616" textLength="81.8" lengthAdjust="spacingAndGlyphs" stroke="#161616" stroke-width="0.25">Healthy-NC</text>
<text x="373.8" y="31.1" font-family='"Liberation Serif", serif' font-size="17" font-weight="normal" font-style="normal" text-anchor="start" fill="#161616" textLength="84.9" lengthAdjust="spacingAndGlyphs" stroke="#161616" stroke-width="0.25">Healthy-P28</text>
<text x="627.2" y="31.6" font-family='"Liberation Serif", serif' font-size="17" font-weight="normal" font-style="normal" text-anchor="start" fill="#161616" textLength="93.2" lengthAdjust="spacingAndGlyphs" stroke="#161616" stroke-width="0.25">Healthy-P119</text>
<text x="117.3" y="309.7" font-family='"Liberation Serif", serif' font-size="17" font-weight="normal" font-style="normal" text-anchor="start" fill="#161616" textLength="81.3" lengthAdjust="spacingAndGlyphs" stroke="#161616" stroke-width="0.25">Vitiligo-NC</text>
<text x="372.5" y="311.2" font-family='"Liberation Serif", serif' font-size="17" font-weight="normal" font-style="normal" text-anchor="start" fill="#161616" textLength="83.6" lengthAdjust="spacingAndGlyphs" stroke="#161616" stroke-width="0.25">Vitiligo-P28</text>
<text x="629.7" y="310.4" font-family='"Liberation Serif", serif' font-size="17" font-weight="normal" font-style="normal" text-anchor="start" fill="#161616" textLength="91.2" lengthAdjust="spacingAndGlyphs" stroke="#161616" stroke-width="0.25">Vitiligo-P119</text>
<text x="7.9" y="12" font-family='"Liberation Serif", serif' font-size="24" font-weight="normal" font-style="normal" text-anchor="start" fill="#161616" stroke="#161616" stroke-width="0.4">a</text>
<text x="9.7" y="634.2" font-family='"Liberation Serif", serif' font-size="25" font-weight="normal" font-style="normal" text-anchor="start" fill="#161616" stroke="#161616" stroke-width="0.4">b</text>
<text x="431.2" y="633.9" font-family='"Liberation Serif", serif' font-size="24" font-weight="normal" font-style="normal" text-anchor="start" fill="#161616" stroke="#161616" stroke-width="0.4">c</text>
<line x1="8.3" y1="66.5" x2="8.3" y2="257.4" stroke="#161616" stroke-width="1.15" stroke-linecap="butt"/>
<line x1="9.5" y1="333.3" x2="9.5" y2="547.2" stroke="#161616" stroke-width="1.15" stroke-linecap="butt"/>
<text transform="translate(13.7,325.4) rotate(-90)" font-family='"Liberation Serif", serif' font-size="21" fill="#161616" stroke="#161616" stroke-width="0.35" textLength="53.8" lengthAdjust="spacingAndGlyphs">counts</text>
<line x1="59" y1="577.3" x2="364" y2="577.2" stroke="#161616" stroke-width="1.2" stroke-linecap="butt"/>
<line x1="447.7" y1="577.2" x2="759" y2="576" stroke="#161616" stroke-width="1.2" stroke-linecap="butt"/>
<text x="394.8" y="583" font-family='"Liberation Serif", serif' font-size="20" font-weight="normal" font-style="normal" text-anchor="start" fill="#161616" textLength="38.7" lengthAdjust="spacingAndGlyphs" stroke="#161616" stroke-width="0.35">CD8</text>
<line x1="86.6" y1="643.2" x2="86.6" y2="829.6" stroke="#161616" stroke-width="1.7" stroke-linecap="butt"/>
<line x1="85.8" y1="828.8" x2="333" y2="828.8" stroke="#161616" stroke-width="1.7" stroke-linecap="butt"/>
<line x1="80.3" y1="828.8" x2="86.6" y2="828.8" stroke="#161616" stroke-width="1.6" stroke-linecap="butt"/>
<text x="79.6" y="833.1" font-family='"Liberation Sans", sans-serif' font-size="12.3" font-weight="bold" font-style="normal" text-anchor="end" fill="#161616" textLength="6.15" lengthAdjust="spacingAndGlyphs">0</text>
<line x1="80.3" y1="791.84" x2="86.6" y2="791.84" stroke="#161616" stroke-width="1.6" stroke-linecap="butt"/>
<text x="79.6" y="796.14" font-family='"Liberation Sans", sans-serif' font-size="12.3" font-weight="bold" font-style="normal" text-anchor="end" fill="#161616" textLength="12.3" lengthAdjust="spacingAndGlyphs">20</text>
<line x1="80.3" y1="754.88" x2="86.6" y2="754.88" stroke="#161616" stroke-width="1.6" stroke-linecap="butt"/>
<text x="79.6" y="759.18" font-family='"Liberation Sans", sans-serif' font-size="12.3" font-weight="bold" font-style="normal" text-anchor="end" fill="#161616" textLength="12.3" lengthAdjust="spacingAndGlyphs">40</text>
<line x1="80.3" y1="717.92" x2="86.6" y2="717.92" stroke="#161616" stroke-width="1.6" stroke-linecap="butt"/>
<text x="79.6" y="722.22" font-family='"Liberation Sans", sans-serif' font-size="12.3" font-weight="bold" font-style="normal" text-anchor="end" fill="#161616" textLength="12.3" lengthAdjust="spacingAndGlyphs">60</text>
<line x1="80.3" y1="680.96" x2="86.6" y2="680.96" stroke="#161616" stroke-width="1.6" stroke-linecap="butt"/>
<text x="79.6" y="685.26" font-family='"Liberation Sans", sans-serif' font-size="12.3" font-weight="bold" font-style="normal" text-anchor="end" fill="#161616" textLength="12.3" lengthAdjust="spacingAndGlyphs">80</text>
<line x1="80.3" y1="644" x2="86.6" y2="644" stroke="#161616" stroke-width="1.6" stroke-linecap="butt"/>
<text x="79.6" y="648.3" font-family='"Liberation Sans", sans-serif' font-size="12.3" font-weight="bold" font-style="normal" text-anchor="end" fill="#161616" textLength="18.45" lengthAdjust="spacingAndGlyphs">100</text>
<line x1="127.1" y1="828.8" x2="127.1" y2="834.4" stroke="#161616" stroke-width="1.6" stroke-linecap="butt"/>
<line x1="209.2" y1="828.8" x2="209.2" y2="834.4" stroke="#161616" stroke-width="1.6" stroke-linecap="butt"/>
<line x1="291" y1="828.8" x2="291" y2="834.4" stroke="#161616" stroke-width="1.6" stroke-linecap="butt"/>
<text x="118.6" y="851.7" font-family='"Liberation Sans", sans-serif' font-size="12.3" font-weight="bold" font-style="normal" text-anchor="start" fill="#161616" textLength="17.2" lengthAdjust="spacingAndGlyphs">NC</text>
<text x="199" y="851.7" font-family='"Liberation Sans", sans-serif' font-size="12.3" font-weight="bold" font-style="normal" text-anchor="start" fill="#161616" textLength="21.2" lengthAdjust="spacingAndGlyphs">P28</text>
<text x="277" y="851.7" font-family='"Liberation Sans", sans-serif' font-size="12.3" font-weight="bold" font-style="normal" text-anchor="start" fill="#161616" textLength="29" lengthAdjust="spacingAndGlyphs">P119</text>
<line x1="112.25" y1="817.2" x2="112.25" y2="819.6" stroke="#161616" stroke-width="2.1" stroke-linecap="butt"/>
<line x1="106.7" y1="817.2" x2="117.7" y2="817.2" stroke="#161616" stroke-width="2.4" stroke-linecap="round"/>
<rect x="102" y="819.6" width="20.5" height="9.2" fill="#fff" stroke="#161616" stroke-width="2"/>
<line x1="142.7" y1="770.2" x2="142.7" y2="777.7" stroke="#161616" stroke-width="2.1" stroke-linecap="butt"/>
<line x1="137.2" y1="770.2" x2="148.2" y2="770.2" stroke="#161616" stroke-width="2.4" stroke-linecap="round"/>
<rect x="131.5" y="776.7" width="22.4" height="52.1" fill="#1a1a1a"/>
<line x1="194.15" y1="806.2" x2="194.15" y2="810.1" stroke="#161616" stroke-width="2.1" stroke-linecap="butt"/>
<line x1="188.6" y1="806.2" x2="200" y2="806.2" stroke="#161616" stroke-width="2.4" stroke-linecap="round"/>
<rect x="183.9" y="810.1" width="20.5" height="18.7" fill="#fff" stroke="#161616" stroke-width="2"/>
<line x1="224.6" y1="685.4" x2="224.6" y2="689.6" stroke="#161616" stroke-width="2.1" stroke-linecap="butt"/>
<line x1="219.2" y1="685.4" x2="230.6" y2="685.4" stroke="#161616" stroke-width="2.4" stroke-linecap="round"/>
<rect x="213.4" y="688.6" width="22.4" height="140.2" fill="#1a1a1a"/>
<line x1="275.95" y1="816" x2="275.95" y2="818.3" stroke="#161616" stroke-width="2.1" stroke-linecap="butt"/>
<line x1="270.4" y1="816" x2="281.5" y2="816" stroke="#161616" stroke-width="2.4" stroke-linecap="round"/>
<rect x="265.7" y="818.3" width="20.5" height="10.5" fill="#fff" stroke="#161616" stroke-width="2"/>
<line x1="306.65" y1="689.4" x2="306.65" y2="695" stroke="#161616" stroke-width="2.1" stroke-linecap="butt"/>
<line x1="301.1" y1="689.4" x2="312.6" y2="689.4" stroke="#161616" stroke-width="2.4" stroke-linecap="round"/>
<rect x="295.4" y="694" width="22.5" height="134.8" fill="#1a1a1a"/>
<line x1="109" y1="756.8" x2="141.9" y2="756.8" stroke="#161616" stroke-width="1.7" stroke-linecap="butt"/>
<line x1="109" y1="751.5" x2="109" y2="762.4" stroke="#161616" stroke-width="1.7" stroke-linecap="butt"/>
<line x1="141.9" y1="751.5" x2="141.9" y2="762.4" stroke="#161616" stroke-width="1.7" stroke-linecap="butt"/>
<line x1="194.8" y1="675.8" x2="225.3" y2="675.8" stroke="#161616" stroke-width="1.7" stroke-linecap="butt"/>
<line x1="194.8" y1="670.5" x2="194.8" y2="681.4" stroke="#161616" stroke-width="1.7" stroke-linecap="butt"/>
<line x1="225.3" y1="670.5" x2="225.3" y2="681.4" stroke="#161616" stroke-width="1.7" stroke-linecap="butt"/>
<line x1="274.8" y1="676.6" x2="304.9" y2="676.6" stroke="#161616" stroke-width="1.7" stroke-linecap="butt"/>
<line x1="274.8" y1="671" x2="274.8" y2="682" stroke="#161616" stroke-width="1.7" stroke-linecap="butt"/>
<line x1="304.9" y1="671" x2="304.9" y2="682" stroke="#161616" stroke-width="1.7" stroke-linecap="butt"/>
<text x="99.1" y="744.3" font-family='"Liberation Sans", sans-serif' font-size="17.3" font-weight="normal" font-style="italic" text-anchor="start" fill="#161616" textLength="8.6" lengthAdjust="spacingAndGlyphs" stroke="#161616" stroke-width="0.12">p</text>
<text x="108.3" y="744.3" font-family='"Liberation Sans", sans-serif' font-size="17.3" font-weight="normal" font-style="normal" text-anchor="start" fill="#161616" textLength="48.9" lengthAdjust="spacingAndGlyphs" stroke="#161616" stroke-width="0.12">=0.022</text>
<text x="181.1" y="659.6" font-family='"Liberation Sans", sans-serif' font-size="17.3" font-weight="normal" font-style="italic" text-anchor="start" fill="#161616" textLength="8.51" lengthAdjust="spacingAndGlyphs" stroke="#161616" stroke-width="0.12">p</text>
<text x="190.21" y="659.6" font-family='"Liberation Sans", sans-serif' font-size="17.3" font-weight="normal" font-style="normal" text-anchor="start" fill="#161616" textLength="48.39" lengthAdjust="spacingAndGlyphs" stroke="#161616" stroke-width="0.12">=0.002</text>
<text x="261.1" y="661.9" font-family='"Liberation Sans", sans-serif' font-size="17.3" font-weight="normal" font-style="italic" text-anchor="start" fill="#161616" textLength="8.47" lengthAdjust="spacingAndGlyphs" stroke="#161616" stroke-width="0.12">p</text>
<text x="270.17" y="661.9" font-family='"Liberation Sans", sans-serif' font-size="17.3" font-weight="normal" font-style="normal" text-anchor="start" fill="#161616" textLength="48.13" lengthAdjust="spacingAndGlyphs" stroke="#161616" stroke-width="0.12">=0.002</text>
<rect x="349.2" y="651" width="18" height="10.4" fill="#fff" stroke="#161616" stroke-width="2" rx="1"/>
<rect x="348.2" y="671.5" width="20" height="12.4" fill="#1a1a1a" rx="1.2"/>
<text x="377.2" y="660.9" font-family='"Liberation Sans", sans-serif' font-size="14" font-weight="normal" font-style="normal" text-anchor="start" fill="#161616" textLength="41.5" lengthAdjust="spacingAndGlyphs" stroke="#161616" stroke-width="0.25">healthy</text>
<text x="377.2" y="681.8" font-family='"Liberation Sans", sans-serif' font-size="14" font-weight="normal" font-style="normal" text-anchor="start" fill="#161616" textLength="35.8" lengthAdjust="spacingAndGlyphs" stroke="#161616" stroke-width="0.25">vitiligo</text>
<text transform="translate(52.6,846.9) rotate(-90)" font-family='"Liberation Sans", sans-serif' font-size="14.6" font-weight="bold" fill="#161616" textLength="31.2" lengthAdjust="spacingAndGlyphs">CD8</text>
<text transform="translate(47.6,815.3) rotate(-90)" font-family='"Liberation Sans", sans-serif' font-size="11" font-weight="bold" fill="#161616" textLength="6.1" lengthAdjust="spacingAndGlyphs">+</text>
<text transform="translate(52.6,808.6) rotate(-90)" font-family='"Liberation Sans", sans-serif' font-size="14.6" font-weight="bold" fill="#161616" textLength="11.2" lengthAdjust="spacingAndGlyphs">T</text>
<text transform="translate(52.6,793.9) rotate(-90)" font-family='"Liberation Sans", sans-serif' font-size="14.6" font-weight="bold" fill="#161616" textLength="87.9" lengthAdjust="spacingAndGlyphs">proliferation</text>
<text transform="translate(52.6,698) rotate(-90)" font-family='"Liberation Sans", sans-serif' font-size="14.6" font-weight="bold" fill="#161616" textLength="25.7" lengthAdjust="spacingAndGlyphs">rate</text>
<text transform="translate(52.6,658.2) rotate(-90)" font-family='"Liberation Sans", sans-serif' font-size="14.6" font-weight="bold" fill="#161616" textLength="13" lengthAdjust="spacingAndGlyphs">%</text>
<path d="M42.05 660.4 Q47.8 666.4 53.55 660.4" fill="none" stroke="#333" stroke-width="1.05"/>
<path d="M42.05 639 Q47.8 633 53.55 639" fill="none" stroke="#333" stroke-width="1.05"/>
<line x1="516" y1="657.2" x2="516" y2="825.8" stroke="#161616" stroke-width="1.7" stroke-linecap="butt"/>
<line x1="515.2" y1="825" x2="784.7" y2="825" stroke="#161616" stroke-width="1.7" stroke-linecap="butt"/>
<line x1="510.2" y1="825" x2="516" y2="825" stroke="#161616" stroke-width="1.6" stroke-linecap="butt"/>
<text x="508.7" y="828.9" font-family='"Liberation Sans", sans-serif' font-size="11.3" font-weight="bold" font-style="normal" text-anchor="end" fill="#161616" textLength="6.55" lengthAdjust="spacingAndGlyphs">0</text>
<line x1="510.2" y1="791.6" x2="516" y2="791.6" stroke="#161616" stroke-width="1.6" stroke-linecap="butt"/>
<text x="508.7" y="795.5" font-family='"Liberation Sans", sans-serif' font-size="11.3" font-weight="bold" font-style="normal" text-anchor="end" fill="#161616" textLength="13.1" lengthAdjust="spacingAndGlyphs">20</text>
<line x1="510.2" y1="758.2" x2="516" y2="758.2" stroke="#161616" stroke-width="1.6" stroke-linecap="butt"/>
<text x="508.7" y="762.1" font-family='"Liberation Sans", sans-serif' font-size="11.3" font-weight="bold" font-style="normal" text-anchor="end" fill="#161616" textLength="13.1" lengthAdjust="spacingAndGlyphs">40</text>
<line x1="510.2" y1="724.8" x2="516" y2="724.8" stroke="#161616" stroke-width="1.6" stroke-linecap="butt"/>
<text x="508.7" y="728.7" font-family='"Liberation Sans", sans-serif' font-size="11.3" font-weight="bold" font-style="normal" text-anchor="end" fill="#161616" textLength="13.1" lengthAdjust="spacingAndGlyphs">60</text>
<line x1="510.2" y1="691.4" x2="516" y2="691.4" stroke="#161616" stroke-width="1.6" stroke-linecap="butt"/>
<text x="508.7" y="695.3" font-family='"Liberation Sans", sans-serif' font-size="11.3" font-weight="bold" font-style="normal" text-anchor="end" fill="#161616" textLength="13.1" lengthAdjust="spacingAndGlyphs">80</text>
<line x1="510.2" y1="658" x2="516" y2="658" stroke="#161616" stroke-width="1.6" stroke-linecap="butt"/>
<text x="508.7" y="661.9" font-family='"Liberation Sans", sans-serif' font-size="11.3" font-weight="bold" font-style="normal" text-anchor="end" fill="#161616" textLength="19.65" lengthAdjust="spacingAndGlyphs">100</text>
<line x1="560.5" y1="825" x2="560.5" y2="830.4" stroke="#161616" stroke-width="1.6" stroke-linecap="butt"/>
<line x1="650.3" y1="825" x2="650.3" y2="830.4" stroke="#161616" stroke-width="1.6" stroke-linecap="butt"/>
<line x1="739.8" y1="825" x2="739.8" y2="830.4" stroke="#161616" stroke-width="1.6" stroke-linecap="butt"/>
<text x="551.2" y="845.9" font-family='"Liberation Sans", sans-serif' font-size="11.4" font-weight="bold" font-style="normal" text-anchor="start" fill="#161616" textLength="18.6" lengthAdjust="spacingAndGlyphs">NC</text>
<text x="638.8" y="845.9" font-family='"Liberation Sans", sans-serif' font-size="11.4" font-weight="bold" font-style="normal" text-anchor="start" fill="#161616" textLength="22.5" lengthAdjust="spacingAndGlyphs">P28</text>
<text x="724.3" y="845.9" font-family='"Liberation Sans", sans-serif' font-size="11.4" font-weight="bold" font-style="normal" text-anchor="start" fill="#161616" textLength="31" lengthAdjust="spacingAndGlyphs">P119</text>
<text transform="translate(476.8,841.4) rotate(-90)" font-family='"Liberation Sans", sans-serif' font-size="14.6" font-weight="bold" fill="#161616" textLength="24.8" lengthAdjust="spacingAndGlyphs">CD8</text>
<text transform="translate(471.8,815.6) rotate(-90)" font-family='"Liberation Sans", sans-serif' font-size="11" font-weight="bold" fill="#161616" textLength="5.3" lengthAdjust="spacingAndGlyphs">+</text>
<text transform="translate(476.8,809.8) rotate(-90)" font-family='"Liberation Sans", sans-serif' font-size="14.6" font-weight="bold" fill="#161616" textLength="9" lengthAdjust="spacingAndGlyphs">T</text>
<text transform="translate(476.8,794.9) rotate(-90)" font-family='"Liberation Sans", sans-serif' font-size="14.6" font-weight="bold" fill="#161616" textLength="80.6" lengthAdjust="spacingAndGlyphs">proliferation</text>
<text transform="translate(476.8,708) rotate(-90)" font-family='"Liberation Sans", sans-serif' font-size="14.6" font-weight="bold" fill="#161616" textLength="24.6" lengthAdjust="spacingAndGlyphs">rate</text>
<text transform="translate(476.8,670.8) rotate(-90)" font-family='"Liberation Sans", sans-serif' font-size="14.6" font-weight="bold" fill="#161616" textLength="11.4" lengthAdjust="spacingAndGlyphs">%</text>
<path d="M466.5 673 Q472 679 477.5 673" fill="none" stroke="#333" stroke-width="1.05"/>
<path d="M466.5 653.6 Q472 647.6 477.5 653.6" fill="none" stroke="#333" stroke-width="1.05"/>
<line x1="530.2" y1="778.7" x2="591.4" y2="778.7" stroke="#161616" stroke-width="2.15" stroke-linecap="butt"/>
<line x1="544.7" y1="761.4" x2="576.7" y2="761.4" stroke="#161616" stroke-width="2.15" stroke-linecap="butt"/>
<line x1="544.7" y1="796.9" x2="576.7" y2="796.9" stroke="#161616" stroke-width="2.15" stroke-linecap="butt"/>
<line x1="560.6" y1="761.4" x2="560.6" y2="796.9" stroke="#161616" stroke-width="2.15" stroke-linecap="butt"/>
<circle cx="560.8" cy="752.6" r="3.55" fill="#111"/>
<circle cx="571.4" cy="769.2" r="3.55" fill="#111"/>
<circle cx="560.5" cy="772.5" r="3.55" fill="#111"/>
<circle cx="560.5" cy="785.6" r="3.55" fill="#111"/>
<circle cx="560.5" cy="797.8" r="3.55" fill="#111"/>
<circle cx="571.4" cy="797.1" r="3.55" fill="#111"/>
<line x1="620" y1="699" x2="680.5" y2="699" stroke="#161616" stroke-width="2.15" stroke-linecap="butt"/>
<line x1="634.4" y1="691" x2="665.7" y2="691" stroke="#161616" stroke-width="2.15" stroke-linecap="butt"/>
<line x1="634.4" y1="707.8" x2="665.7" y2="707.8" stroke="#161616" stroke-width="2.15" stroke-linecap="butt"/>
<line x1="650.4" y1="691" x2="650.4" y2="707.8" stroke="#161616" stroke-width="2.15" stroke-linecap="butt"/>
<rect x="658.1" y="684.6" width="6.6" height="6.4" fill="#111"/>
<rect x="635.9" y="690.3" width="6.6" height="6.4" fill="#111"/>
<rect x="647.1" y="690.7" width="6.6" height="6.4" fill="#111"/>
<rect x="635.9" y="699.2" width="6.6" height="6.4" fill="#111"/>
<rect x="646.9" y="705.9" width="6.6" height="6.4" fill="#111"/>
<rect x="657.8" y="705.1" width="6.6" height="6.4" fill="#111"/>
<line x1="709.4" y1="703.8" x2="769.8" y2="703.8" stroke="#161616" stroke-width="2.15" stroke-linecap="butt"/>
<line x1="724.3" y1="691.6" x2="755.7" y2="691.6" stroke="#161616" stroke-width="2.15" stroke-linecap="butt"/>
<line x1="724.3" y1="716.7" x2="755.7" y2="716.7" stroke="#161616" stroke-width="2.15" stroke-linecap="butt"/>
<line x1="739.9" y1="691.6" x2="739.9" y2="716.7" stroke="#161616" stroke-width="2.15" stroke-linecap="butt"/>
<path d="M718.6 688.4 L722.1 694.8 L715.1 694.8 Z" fill="#111"/>
<path d="M729.4 694.6 L732.9 701 L725.9 701 Z" fill="#111"/>
<path d="M739.9 695.4 L743.4 701.8 L736.4 701.8 Z" fill="#111"/>
<path d="M750.8 693.7 L754.3 700.1 L747.3 700.1 Z" fill="#111"/>
<path d="M739.9 717.3 L743.4 723.7 L736.4 723.7 Z" fill="#111"/>
<path d="M750.8 716.6 L754.3 723 L747.3 723 Z" fill="#111"/>
<line x1="558.6" y1="643.9" x2="736.1" y2="643.9" stroke="#161616" stroke-width="1.75" stroke-linecap="butt"/>
<line x1="558.6" y1="639" x2="558.6" y2="648.6" stroke="#161616" stroke-width="1.75" stroke-linecap="butt"/>
<line x1="736.1" y1="639" x2="736.1" y2="648.6" stroke="#161616" stroke-width="1.75" stroke-linecap="butt"/>
<line x1="558.2" y1="670.6" x2="645.7" y2="670.6" stroke="#161616" stroke-width="1.75" stroke-linecap="butt"/>
<line x1="558.2" y1="665.7" x2="558.2" y2="675.4" stroke="#161616" stroke-width="1.75" stroke-linecap="butt"/>
<line x1="645.7" y1="665.7" x2="645.7" y2="675.4" stroke="#161616" stroke-width="1.75" stroke-linecap="butt"/>
<text x="615.4" y="638.2" font-family='"Liberation Sans", sans-serif' font-size="11.2" font-weight="bold" font-style="italic" text-anchor="start" fill="#161616" textLength="7" lengthAdjust="spacingAndGlyphs">p</text>
<path d="M633.8 630.6 L624.6 634.3 L633.8 638" fill="none" stroke="#2a2a2a" stroke-width="0.9"/>
<text x="639.6" y="638.2" font-family='"Liberation Sans", sans-serif' font-size="11.2" font-weight="bold" font-style="normal" text-anchor="start" fill="#161616" textLength="33.7" lengthAdjust="spacingAndGlyphs">0.0001</text>
<text x="573.5" y="665.3" font-family='"Liberation Sans", sans-serif' font-size="11.2" font-weight="bold" font-style="italic" text-anchor="start" fill="#161616" textLength="7" lengthAdjust="spacingAndGlyphs">p</text>
<path d="M591.9 657.7 L582.7 661.4 L591.9 665.1" fill="none" stroke="#2a2a2a" stroke-width="0.9"/>
<text x="597.7" y="665.3" font-family='"Liberation Sans", sans-serif' font-size="11.2" font-weight="bold" font-style="normal" text-anchor="start" fill="#161616" textLength="33.7" lengthAdjust="spacingAndGlyphs">0.0001</text>
</svg>
</body>
</html>
